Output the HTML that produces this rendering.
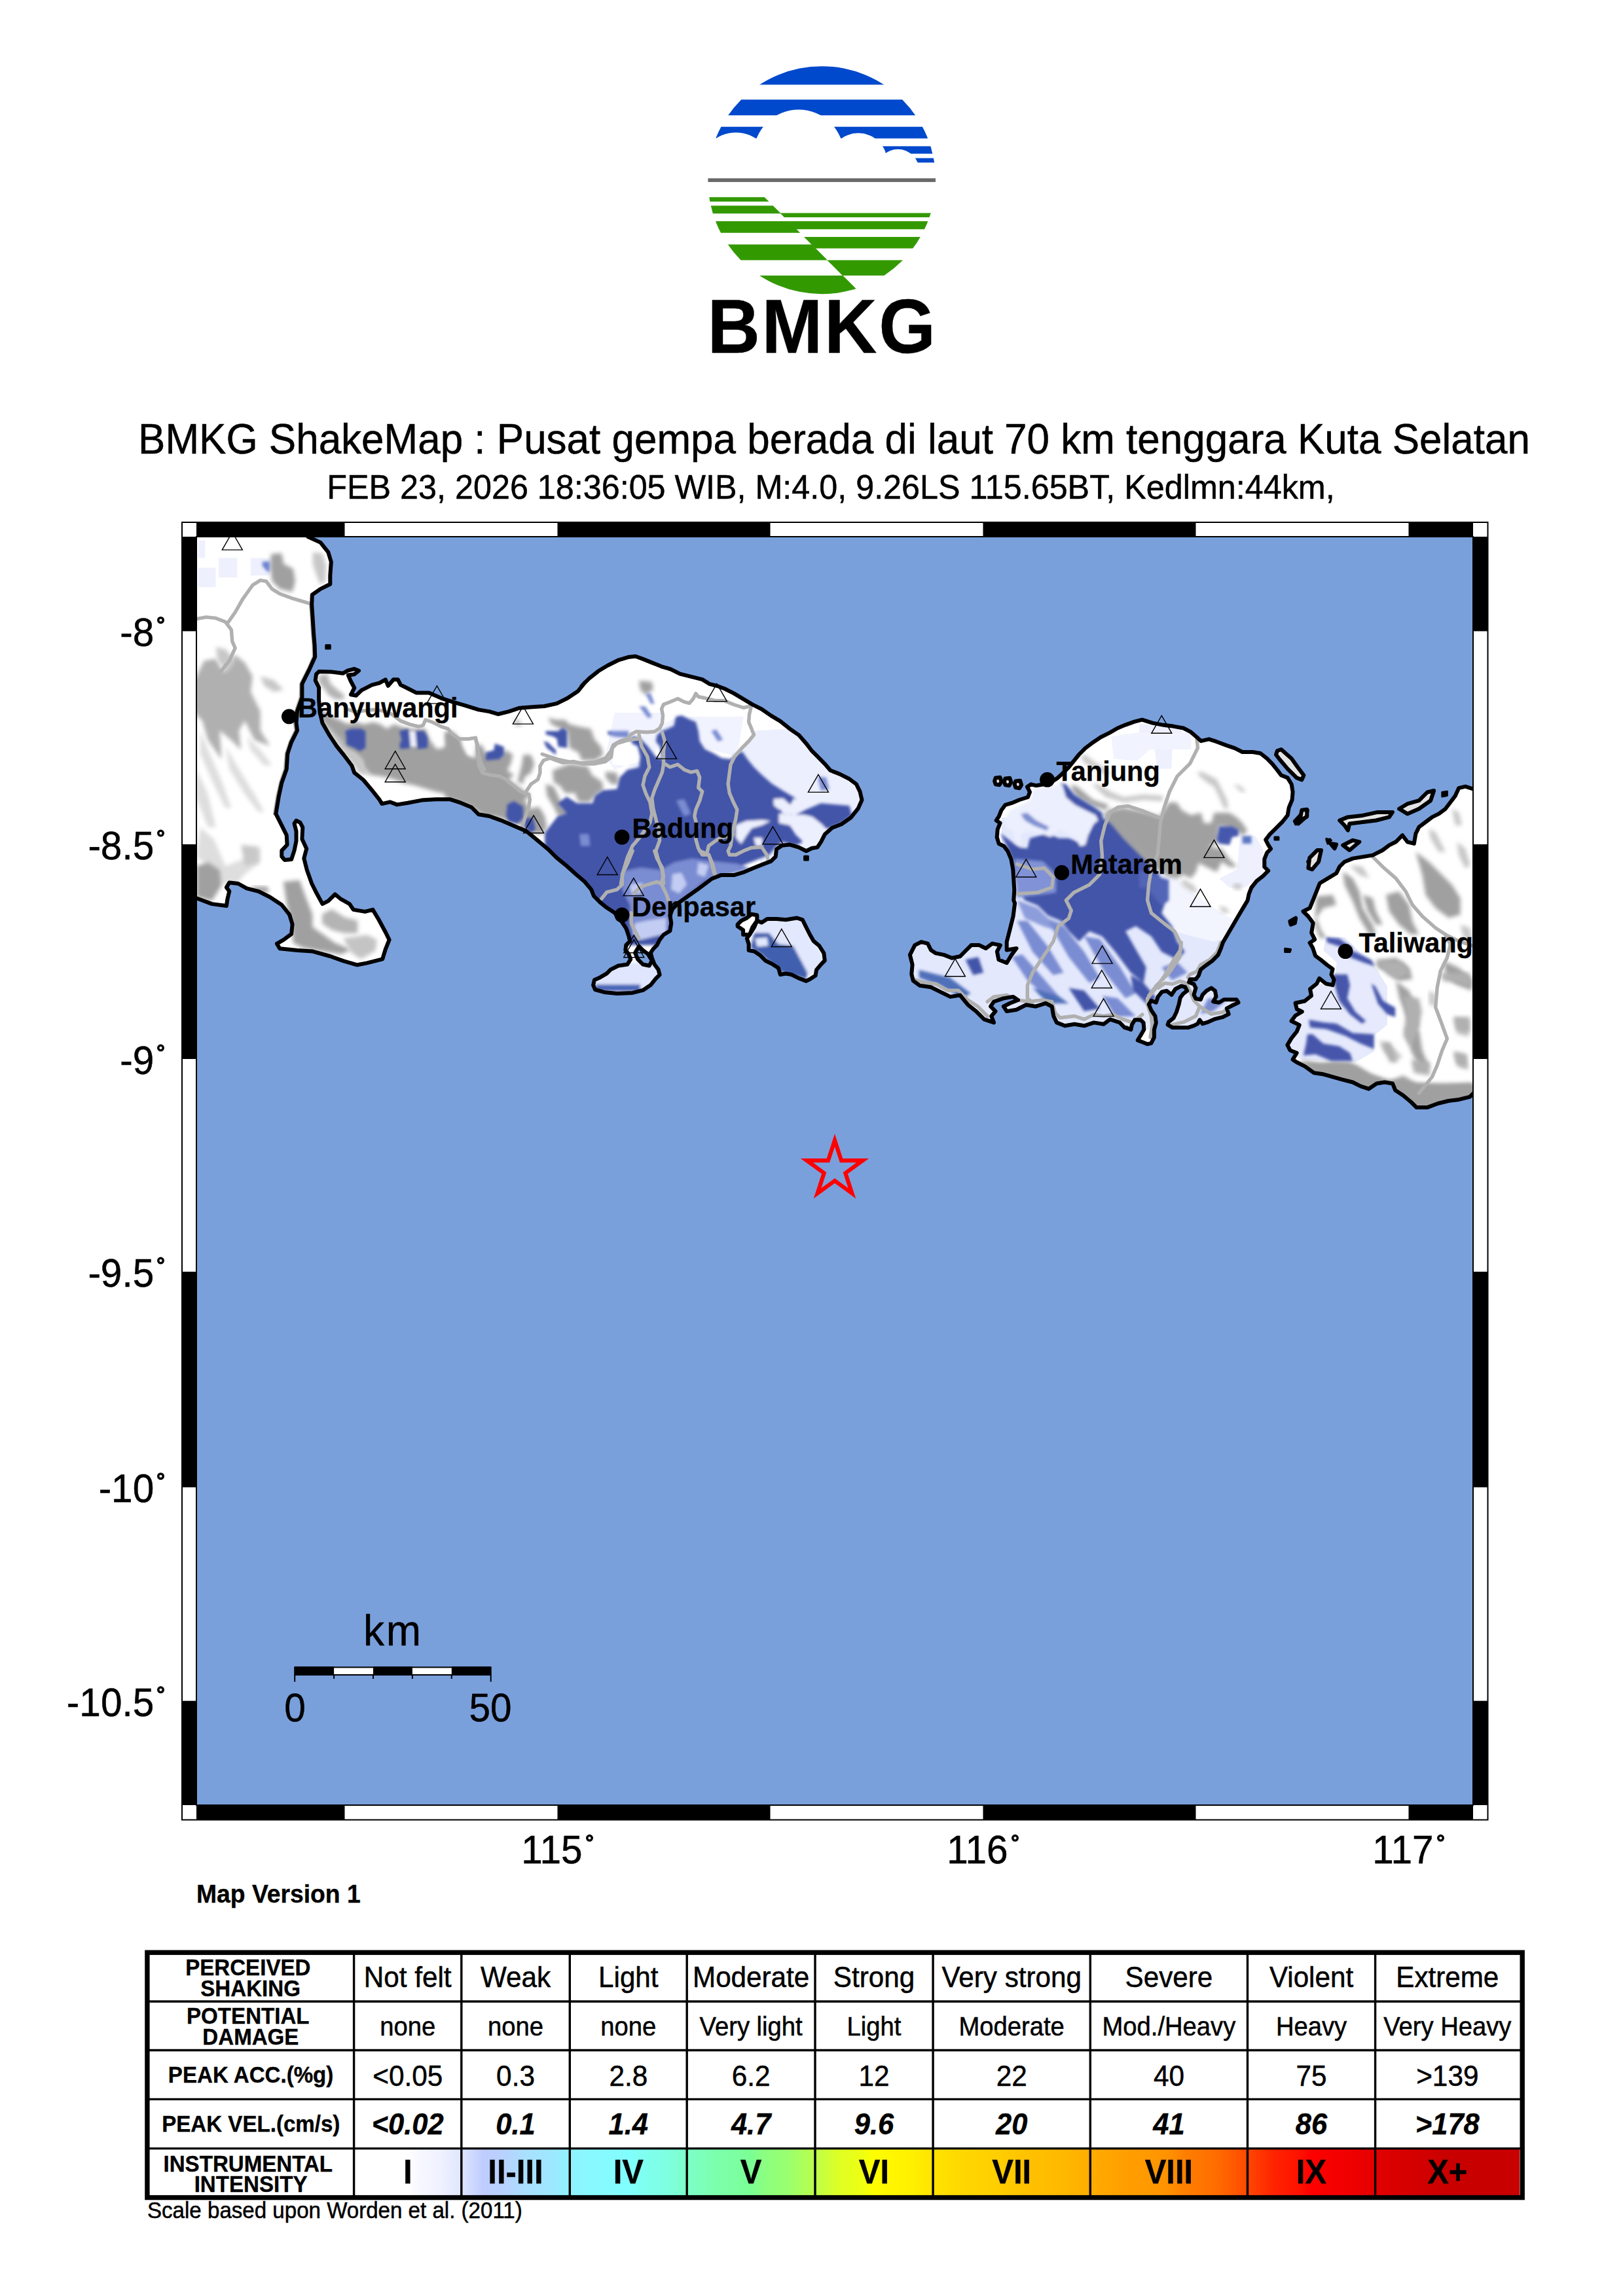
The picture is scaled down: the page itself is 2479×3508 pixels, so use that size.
<!DOCTYPE html>
<html><head><meta charset="utf-8"><title>BMKG ShakeMap</title>
<style>html,body{margin:0;padding:0;background:#fff}body{width:2479px;height:3508px;overflow:hidden}svg{display:block}text{fill:#000}</style>
</head><body>
<svg width="2479" height="3508" viewBox="0 0 2479 3508">
<rect width="2479" height="3508" fill="#fff"/>
<g id="logo">
<defs><clipPath id="lc"><circle cx="1255.2" cy="275.2" r="174.0"/></clipPath></defs>
<defs><mask id="cm" maskUnits="userSpaceOnUse" x="1050" y="90" width="420" height="200"><rect x="1050" y="90" width="420" height="200" fill="#fff"/><circle cx="1219.9" cy="236.5" r="69" fill="#000"/><circle cx="1124" cy="257.2" r="54.8" fill="#000"/><circle cx="1311" cy="247.5" r="44.2" fill="#000"/><circle cx="1371.5" cy="260.5" r="32.5" fill="#000"/></mask></defs>
<g clip-path="url(#lc)"><g mask="url(#cm)" fill="#0048cc">
<rect x="1050" y="95" width="420" height="34.4"/>
<rect x="1050" y="152.2" width="420" height="24"/>
<rect x="1050" y="193.7" width="420" height="17.8"/>
<rect x="1340" y="223.4" width="130" height="11.4"/>
<rect x="1392" y="241.6" width="80" height="6.8"/>
</g></g>
<rect x="1081.4" y="272.4" width="347.6" height="5.7" fill="#696969"/>
<polygon points="1050,301.2 1167.7,301.2 1174.5,308 1050,308" fill="#339900" clip-path="url(#lc)"/>
<polygon points="1050,314.2 1180.7,314.2 1192.8,326.3 1050,326.3" fill="#339900" clip-path="url(#lc)"/>
<polygon points="1050,338.1 1204.6,338.1 1222.2,355.7 1050,355.7" fill="#339900" clip-path="url(#lc)"/>
<polygon points="1050,373.5 1240,373.5 1263.9,397.4 1050,397.4" fill="#339900" clip-path="url(#lc)"/>
<polygon points="1050,420.9 1287.4,420.9 1318.5,452 1050,452" fill="#339900" clip-path="url(#lc)"/>
<polygon points="1191.5,325.6 1460,325.6 1460,332 1197.9,332" fill="#339900" clip-path="url(#lc)"/>
<polygon points="1204,338.1 1460,338.1 1460,350.2 1216.1,350.2" fill="#339900" clip-path="url(#lc)"/>
<polygon points="1228,362.1 1460,362.1 1460,379.6 1245.5,379.6" fill="#339900" clip-path="url(#lc)"/>
<polygon points="1263.3,397.4 1460,397.4 1460,420.9 1286.8,420.9" fill="#339900" clip-path="url(#lc)"/>
<text transform="translate(1080.5 539.2) scale(1 1.044)" font-family='"Liberation Sans", sans-serif' font-size="111.5" font-weight="bold" letter-spacing="2.6" stroke="#000" stroke-width="0.35">BMKG</text>
</g>
<text transform="translate(1274 692.8) scale(1 1.044)" font-family='"Liberation Sans", sans-serif' font-size="62" text-anchor="middle" stroke="#000" stroke-width="0.5">BMKG ShakeMap : Pusat gempa berada di laut 70 km tenggara Kuta Selatan</text>
<text transform="translate(1269 762.4) scale(1 1.044)" font-family='"Liberation Sans", sans-serif' font-size="50.3" text-anchor="middle" stroke="#000" stroke-width="0.5">FEB 23, 2026 18:36:05 WIB, M:4.0, 9.26LS 115.65BT, Kedlmn:44km,</text>
<rect x="278" y="798" width="1994.5" height="1982.5" fill="#fff" stroke="#000" stroke-width="2"/>
<rect x="300" y="820" width="1950" height="1938" fill="none" stroke="#000" stroke-width="2"/>
<rect x="300" y="798" width="226.5" height="23" fill="#000"/>
<rect x="300" y="2757" width="226.5" height="23.5" fill="#000"/>
<rect x="851.5" y="798" width="325" height="23" fill="#000"/>
<rect x="851.5" y="2757" width="325" height="23.5" fill="#000"/>
<rect x="1501.5" y="798" width="325" height="23" fill="#000"/>
<rect x="1501.5" y="2757" width="325" height="23.5" fill="#000"/>
<rect x="2151.5" y="798" width="98.5" height="23" fill="#000"/>
<rect x="2151.5" y="2757" width="98.5" height="23.5" fill="#000"/>
<rect x="278" y="820" width="23" height="144.4" fill="#000"/>
<rect x="2249" y="820" width="23.5" height="144.4" fill="#000"/>
<rect x="278" y="1290" width="23" height="328" fill="#000"/>
<rect x="2249" y="1290" width="23.5" height="328" fill="#000"/>
<rect x="278" y="1943" width="23" height="329.4" fill="#000"/>
<rect x="2249" y="1943" width="23.5" height="329.4" fill="#000"/>
<rect x="278" y="2598.7" width="23" height="159.3" fill="#000"/>
<rect x="2249" y="2598.7" width="23.5" height="159.3" fill="#000"/>
<defs><clipPath id="mapclip"><rect x="301" y="821" width="1948" height="1936"/></clipPath></defs>
<rect x="301" y="821" width="1948" height="1936" fill="#7aa0dc"/>
<g clip-path="url(#mapclip)">
<defs><clipPath id="land">
<path d="M294.1,814.1 L470.2,814.1 L470.2,820 L489.5,828.9 L501.3,843.7 L505.8,858.5 L504.3,879.2 L504.3,892.5 L489.5,899.9 L476.8,908.8 L476.2,923.6 L477.6,944.4 L479.1,968 L480.6,985.8 L481.2,1003.6 L473.2,1021.3 L461.4,1045 L461.4,1065.7 L454,1086.5 L452.5,1104.2 L454,1116.1 L445.1,1133.8 L439.2,1151.6 L437.7,1175.3 L430.3,1196 L425.8,1216.7 L421.4,1243.4 L430.3,1261.2 L437.7,1276 L438.6,1290.8 L430.3,1299.6 L430.3,1308.5 L434.7,1313.9 L445.1,1313 L449.5,1299.6 L452.5,1284.8 L452.5,1270 L449.5,1258.2 L452.5,1253.8 L458.4,1256.7 L462.3,1264.1 L461.4,1281.9 L468.2,1296.7 L464.3,1311.5 L468.8,1329.3 L476.2,1350 L483.6,1364.8 L492.5,1381.1 L501.3,1376.6 L511.7,1366.3 L520.6,1373.7 L533.9,1381.1 L539.8,1389.9 L557.6,1392.9 L569.4,1389.9 L578.3,1404.8 L588.7,1424 L594.6,1435.8 L588.7,1450.6 L584.2,1465.4 L560.5,1471.4 L545.7,1474.3 L525,1468.4 L504.3,1461 L477.6,1453.6 L454,1452.1 L427.3,1449.2 L422.9,1441.8 L433.2,1435.8 L445.1,1427 L446.6,1412.2 L442.1,1397.4 L430.3,1382.5 L412.5,1370.7 L394.7,1361.8 L377,1357.4 L363.7,1350 L350.3,1348.5 L345.9,1355.9 L350.3,1361.8 L347.4,1373.7 L345.9,1384 L323.7,1381.1 L300,1372.2 L294.1,1370.7Z"/>
<path d="M483,1030.2 L487.1,1026.1 L506.1,1026.6 L523.7,1028.8 L531,1024.7 L541.3,1022 L548.1,1024.7 L541.3,1030.2 L531.8,1031.5 L535.9,1041 L541.3,1051 L535.9,1061.3 L544,1062.7 L552.2,1054.6 L568.4,1046.4 L579.3,1043.7 L588.8,1038.3 L592.8,1047.8 L601,1038.3 L607.8,1038.3 L611.8,1046.4 L622.7,1051.8 L636.2,1058.6 L655.2,1058.6 L674.2,1066.8 L690.4,1072.2 L709.4,1077.6 L731.1,1084.4 L747.4,1087.1 L760.9,1091.2 L777.2,1087.1 L793.5,1081.7 L812.4,1080.3 L831.4,1079 L850.4,1074.9 L866.7,1066.8 L882.9,1055.9 L893.8,1042.4 L888.5,1048 L899.8,1036.7 L914,1025.3 L928.2,1016.8 L945.2,1008.3 L959.4,1004.1 L970.7,1002.7 L982,1006.9 L996.2,1012.6 L1010.4,1018.3 L1024.5,1022.5 L1038.7,1029.6 L1055.7,1033.9 L1072.7,1038.1 L1084.1,1045.2 L1095.4,1048 L1106.7,1052.3 L1120.9,1059.4 L1135.1,1067.9 L1149.3,1076.4 L1163.4,1083.5 L1177.6,1093.4 L1191.8,1101.9 L1205.9,1113.2 L1220.1,1123.1 L1231.4,1135.9 L1240,1147.2 L1248.5,1155.7 L1259.8,1167.1 L1268.3,1177 L1282.5,1182.6 L1296.6,1189.7 L1308,1198.2 L1313.6,1209.6 L1316.5,1222.3 L1310.8,1235.1 L1299.5,1249.3 L1285.3,1259.2 L1271.1,1264.8 L1259.8,1274.8 L1254.1,1286.1 L1248.5,1294.6 L1240,1296 L1231.4,1300.3 L1220.1,1294.6 L1205.9,1290.4 L1194.6,1291.8 L1186.1,1297.4 L1184.7,1308.8 L1177.6,1315.9 L1166.3,1320.1 L1152.1,1325.8 L1135.1,1332.9 L1120.9,1337.1 L1101.1,1337.1 L1086.9,1342.8 L1075.6,1351.3 L1064.2,1359.8 L1050.1,1369.7 L1037.2,1378.9 L1027.3,1388.7 L1023.4,1398.6 L1025.3,1410.4 L1023.4,1422.2 L1013.5,1428.2 L1007.6,1436 L1003.6,1443.9 L997.7,1449.8 L993.8,1455.8 L995.8,1463.6 L999.7,1473.5 L1005.6,1481.4 L1007.6,1489.3 L1001.7,1495.2 L993.8,1505.1 L982,1512.9 L966.2,1516.9 L942.5,1517.9 L922.8,1515.9 L909,1512 L906.1,1505.1 L908,1497.2 L916.9,1493.2 L926.8,1487.3 L932.7,1481.4 L944.5,1475.5 L958.3,1473.5 L963.2,1465.6 L960.3,1457.7 L955.3,1451.8 L956.3,1443.9 L962.2,1438 L960.3,1430.1 L956.3,1418.3 L948.4,1406.5 L938.6,1394.6 L926.8,1386.8 L916.9,1378.9 L907,1369 L903.1,1359.1 L893.2,1347.3 L879.4,1335.5 L863.9,1321.6 L850.4,1310.7 L836.8,1297.2 L820.6,1283.6 L804.3,1270.1 L785.3,1261.9 L766.3,1253.8 L747.4,1247 L731.1,1244.3 L720.3,1233.5 L704,1226.7 L687.7,1221.3 L666,1221.3 L644.3,1222.6 L622.7,1226.7 L606.4,1229.4 L595.6,1225.3 L583.4,1228.1 L579.3,1221.3 L568.4,1207.7 L554.9,1191.5 L541.3,1180.6 L537.3,1169.8 L525.1,1153.5 L514.2,1140 L503.4,1123.7 L492.5,1104.7 L488.5,1088.4 L487.1,1069.5 L487.1,1050.5 L481.7,1039.6Z"/>
<path d="M1156.3,1406.8 L1163.4,1409.6 L1171.9,1403.9 L1186.1,1403.9 L1200.3,1405.3 L1217.3,1402.5 L1225.8,1405.3 L1231.4,1416.7 L1237.1,1428 L1242.8,1437.9 L1251.3,1445 L1258.4,1456.4 L1259.8,1467.7 L1254.1,1473.4 L1247,1481.9 L1245.6,1490.4 L1237.1,1496 L1231.4,1498.9 L1220.1,1494.6 L1208.8,1489 L1200.3,1487.5 L1191.8,1489 L1188.9,1479 L1180.4,1473.4 L1169.1,1467.7 L1160.6,1459.2 L1152.1,1453.5 L1143.6,1452.1 L1143.6,1442.2 L1140.8,1433.7 L1145,1428 L1149.3,1416.7Z"/>
<path d="M1126.6,1412.4 L1132.2,1406.8 L1140.8,1402.5 L1147.8,1396.8 L1156.3,1398.3 L1156.3,1406.8 L1152.1,1416.7 L1145,1428 L1135.1,1428 L1135.1,1420.9 L1126.6,1415.3Z"/>
<path d="M1548.3,1375.7 L1549.3,1360 L1548.3,1344.2 L1547.3,1328.4 L1544.4,1312.7 L1539.4,1300.8 L1533.5,1292.9 L1525.6,1289 L1522.7,1279.1 L1523.7,1267.3 L1527.6,1257.4 L1521.7,1253.5 L1525.6,1247.6 L1529.6,1237.7 L1535.5,1229.8 L1545.3,1226.9 L1557.2,1222 L1570,1218 L1573,1210.1 L1569,1202.2 L1574.9,1198.3 L1582.8,1200.3 L1594.6,1198.3 L1606.5,1194.4 L1614.4,1189.4 L1622.2,1182.5 L1632.1,1172.7 L1640,1162.8 L1647.9,1153 L1657.7,1143.1 L1669.6,1134.2 L1681.4,1126.3 L1695.2,1119.4 L1707,1112.5 L1718.9,1107.6 L1732.7,1102.7 L1744.5,1099.7 L1760.3,1104.6 L1776,1107.6 L1791.8,1109.6 L1807.6,1112.5 L1818.9,1118.4 L1826.8,1125.3 L1834.6,1132.2 L1846.5,1129.3 L1858.3,1133.2 L1874.1,1139.1 L1885.9,1143.1 L1897.7,1149 L1913.5,1149 L1925.3,1151 L1935.2,1158.9 L1943.1,1166.8 L1951,1176.6 L1956.9,1184.5 L1966.7,1188.4 L1972.7,1198.3 L1974.6,1210.1 L1973.6,1222 L1968.7,1233.8 L1966.7,1245.6 L1958.9,1255.5 L1949,1265.3 L1939.1,1275.2 L1933.2,1283.1 L1937.2,1291 L1941.1,1296.9 L1935.2,1302.8 L1931.3,1312.7 L1931.3,1324.5 L1937.2,1330.4 L1929.3,1338.3 L1919.4,1346.2 L1911.5,1356 L1907.6,1365.9 L1905.6,1375.7 L1899.7,1385.6 L1893.8,1395.5 L1867.9,1440 L1864.9,1448.9 L1860.5,1459.2 L1851.6,1468.1 L1841.3,1475.5 L1833.9,1481.4 L1830.9,1490.3 L1826.5,1496.2 L1817.6,1496.2 L1816.1,1500.6 L1823.5,1503.6 L1826.5,1509.5 L1823.5,1519.9 L1826.5,1525.8 L1833.9,1527.2 L1836.8,1519.9 L1842.7,1513.9 L1850.1,1509.5 L1856,1513.9 L1857.5,1522.8 L1853.1,1530.2 L1862,1531.7 L1869.4,1527.2 L1876.7,1527.2 L1888.6,1527.2 L1891.5,1531.7 L1882.7,1536.1 L1873.8,1540.6 L1876.7,1549.4 L1867.9,1553.9 L1856,1556.8 L1845.7,1561.3 L1836.8,1564.2 L1832.4,1558.3 L1829.4,1564.2 L1823.5,1567.2 L1814.6,1570.1 L1802.8,1570.1 L1791,1570.1 L1783.6,1565.7 L1785.1,1561.3 L1792.5,1555.3 L1796.9,1546.5 L1800.6,1534.6 L1802.8,1524.3 L1807.2,1518.4 L1813.2,1513.9 L1810.2,1508 L1804.3,1506.5 L1795.4,1511 L1789.5,1519.9 L1782.1,1513.9 L1774.7,1515.4 L1768.8,1522.8 L1765.8,1531.7 L1758.4,1528.7 L1754.8,1534.6 L1758.4,1543.5 L1764.4,1552.4 L1765.8,1562.7 L1762.9,1573.1 L1762.9,1584.9 L1758.4,1593.8 L1752.5,1595.3 L1745.1,1592.3 L1737.7,1589.4 L1742.2,1582 L1747.4,1573.1 L1746.6,1562.7 L1742.2,1558.3 L1733.3,1558.3 L1728.9,1565.7 L1727.4,1573.1 L1720,1570.1 L1725,1572.2 L1717.6,1569.8 L1710.3,1562.4 L1695.5,1557.4 L1685.6,1564.8 L1670.8,1562.4 L1656,1567.3 L1641.2,1564.8 L1626.5,1567.3 L1614.1,1562.4 L1609.2,1552.5 L1606.7,1537.7 L1596.9,1532.8 L1582.1,1537.7 L1567.3,1535.3 L1552.5,1542.7 L1537.7,1545.1 L1532.8,1537.7 L1542.7,1532.8 L1555,1527.9 L1547.6,1522.9 L1532.8,1525.4 L1518,1530.3 L1513.1,1537.7 L1520.5,1545.1 L1514.3,1552.5 L1518,1562.4 L1503.2,1557.4 L1490.9,1545.1 L1478.6,1535.3 L1466.3,1520.5 L1451.5,1522.9 L1436.7,1515.6 L1421.9,1508.2 L1404.6,1505.7 L1394.8,1498.3 L1392.3,1488.4 L1393.6,1473.7 L1389.9,1458.9 L1397.3,1444.1 L1407.1,1439.1 L1417,1441.6 L1421.9,1451.5 L1429.3,1456.4 L1441.6,1458.9 L1453.9,1463.8 L1466.3,1461.3 L1476.1,1451.5 L1483.5,1444.1 L1495.8,1444.1 L1505.7,1449 L1515.6,1441.6 L1527.9,1444.1 L1522.9,1453.9 L1525.4,1466.3 L1537.7,1471.2 L1545.1,1458.9 L1552.5,1449 L1537.7,1451.5 L1537.7,1439.1 L1542.7,1419.4 L1547.6,1399.7 L1550.1,1380Z"/>
<path d="M2268.5,1205.5 L2250.3,1205.5 L2238.2,1201.7 L2228.1,1204.2 L2223,1215.6 L2215.4,1225.7 L2207.8,1235.8 L2197.7,1243.4 L2187.6,1248.4 L2177.5,1256 L2167.4,1263.6 L2162.4,1273.7 L2159.8,1288.9 L2149.7,1286.3 L2142.1,1276.2 L2132,1286.3 L2121.9,1291.4 L2111.8,1299 L2096.7,1306.6 L2081.5,1309.1 L2066.3,1311.6 L2053.7,1316.7 L2046.1,1324.2 L2041.1,1334.3 L2028.4,1341.9 L2015.8,1349.5 L2010.8,1362.1 L2005.7,1374.8 L2000.6,1387.4 L1990.5,1392.5 L1998.1,1400 L2005.7,1410.2 L2003.2,1425.3 L2008.2,1435.4 L2000.6,1440.5 L2005.1,1448.1 L2009.1,1460.3 L2017.3,1466.4 L2027.4,1474.6 L2035.6,1480.7 L2033.5,1488.8 L2037.6,1496.9 L2035.6,1505.1 L2025.4,1503 L2015.2,1494.9 L2011.2,1503 L2001,1511.2 L2003,1521.3 L1992.9,1529.5 L1978.6,1532.5 L1980.7,1541.7 L1988.8,1545.7 L1978.6,1551.8 L1972.5,1560 L1984.7,1566.1 L1980.7,1576.2 L1972.5,1586.4 L1966.4,1596.6 L1970.5,1604.7 L1980.7,1608.8 L1974.6,1618.9 L1980.7,1623 L1992.9,1629.1 L2007.1,1639.3 L2021.3,1641.3 L2035.6,1645.4 L2049.8,1649.4 L2066.1,1653.5 L2078.3,1659.6 L2090.5,1663.7 L2102.7,1655.5 L2114.9,1653.5 L2127.1,1655.5 L2131.1,1665.7 L2143.3,1673.8 L2155.5,1684 L2163.7,1692.1 L2179.9,1692.1 L2196.2,1686 L2212.5,1682 L2228.7,1679.9 L2245,1675.9 L2251.1,1669.8 L2285.7,1669.8Z"/>
</clipPath><filter id="bl" x="-20%" y="-20%" width="140%" height="140%"><feGaussianBlur stdDeviation="3"/></filter><filter id="bl2" filterUnits="userSpaceOnUse" x="280" y="800" width="2000" height="1000"><feGaussianBlur stdDeviation="2.2"/></filter></defs>
<path d="M294.1,814.1 L470.2,814.1 L470.2,820 L489.5,828.9 L501.3,843.7 L505.8,858.5 L504.3,879.2 L504.3,892.5 L489.5,899.9 L476.8,908.8 L476.2,923.6 L477.6,944.4 L479.1,968 L480.6,985.8 L481.2,1003.6 L473.2,1021.3 L461.4,1045 L461.4,1065.7 L454,1086.5 L452.5,1104.2 L454,1116.1 L445.1,1133.8 L439.2,1151.6 L437.7,1175.3 L430.3,1196 L425.8,1216.7 L421.4,1243.4 L430.3,1261.2 L437.7,1276 L438.6,1290.8 L430.3,1299.6 L430.3,1308.5 L434.7,1313.9 L445.1,1313 L449.5,1299.6 L452.5,1284.8 L452.5,1270 L449.5,1258.2 L452.5,1253.8 L458.4,1256.7 L462.3,1264.1 L461.4,1281.9 L468.2,1296.7 L464.3,1311.5 L468.8,1329.3 L476.2,1350 L483.6,1364.8 L492.5,1381.1 L501.3,1376.6 L511.7,1366.3 L520.6,1373.7 L533.9,1381.1 L539.8,1389.9 L557.6,1392.9 L569.4,1389.9 L578.3,1404.8 L588.7,1424 L594.6,1435.8 L588.7,1450.6 L584.2,1465.4 L560.5,1471.4 L545.7,1474.3 L525,1468.4 L504.3,1461 L477.6,1453.6 L454,1452.1 L427.3,1449.2 L422.9,1441.8 L433.2,1435.8 L445.1,1427 L446.6,1412.2 L442.1,1397.4 L430.3,1382.5 L412.5,1370.7 L394.7,1361.8 L377,1357.4 L363.7,1350 L350.3,1348.5 L345.9,1355.9 L350.3,1361.8 L347.4,1373.7 L345.9,1384 L323.7,1381.1 L300,1372.2 L294.1,1370.7Z" fill="#fff"/>
<path d="M483,1030.2 L487.1,1026.1 L506.1,1026.6 L523.7,1028.8 L531,1024.7 L541.3,1022 L548.1,1024.7 L541.3,1030.2 L531.8,1031.5 L535.9,1041 L541.3,1051 L535.9,1061.3 L544,1062.7 L552.2,1054.6 L568.4,1046.4 L579.3,1043.7 L588.8,1038.3 L592.8,1047.8 L601,1038.3 L607.8,1038.3 L611.8,1046.4 L622.7,1051.8 L636.2,1058.6 L655.2,1058.6 L674.2,1066.8 L690.4,1072.2 L709.4,1077.6 L731.1,1084.4 L747.4,1087.1 L760.9,1091.2 L777.2,1087.1 L793.5,1081.7 L812.4,1080.3 L831.4,1079 L850.4,1074.9 L866.7,1066.8 L882.9,1055.9 L893.8,1042.4 L888.5,1048 L899.8,1036.7 L914,1025.3 L928.2,1016.8 L945.2,1008.3 L959.4,1004.1 L970.7,1002.7 L982,1006.9 L996.2,1012.6 L1010.4,1018.3 L1024.5,1022.5 L1038.7,1029.6 L1055.7,1033.9 L1072.7,1038.1 L1084.1,1045.2 L1095.4,1048 L1106.7,1052.3 L1120.9,1059.4 L1135.1,1067.9 L1149.3,1076.4 L1163.4,1083.5 L1177.6,1093.4 L1191.8,1101.9 L1205.9,1113.2 L1220.1,1123.1 L1231.4,1135.9 L1240,1147.2 L1248.5,1155.7 L1259.8,1167.1 L1268.3,1177 L1282.5,1182.6 L1296.6,1189.7 L1308,1198.2 L1313.6,1209.6 L1316.5,1222.3 L1310.8,1235.1 L1299.5,1249.3 L1285.3,1259.2 L1271.1,1264.8 L1259.8,1274.8 L1254.1,1286.1 L1248.5,1294.6 L1240,1296 L1231.4,1300.3 L1220.1,1294.6 L1205.9,1290.4 L1194.6,1291.8 L1186.1,1297.4 L1184.7,1308.8 L1177.6,1315.9 L1166.3,1320.1 L1152.1,1325.8 L1135.1,1332.9 L1120.9,1337.1 L1101.1,1337.1 L1086.9,1342.8 L1075.6,1351.3 L1064.2,1359.8 L1050.1,1369.7 L1037.2,1378.9 L1027.3,1388.7 L1023.4,1398.6 L1025.3,1410.4 L1023.4,1422.2 L1013.5,1428.2 L1007.6,1436 L1003.6,1443.9 L997.7,1449.8 L993.8,1455.8 L995.8,1463.6 L999.7,1473.5 L1005.6,1481.4 L1007.6,1489.3 L1001.7,1495.2 L993.8,1505.1 L982,1512.9 L966.2,1516.9 L942.5,1517.9 L922.8,1515.9 L909,1512 L906.1,1505.1 L908,1497.2 L916.9,1493.2 L926.8,1487.3 L932.7,1481.4 L944.5,1475.5 L958.3,1473.5 L963.2,1465.6 L960.3,1457.7 L955.3,1451.8 L956.3,1443.9 L962.2,1438 L960.3,1430.1 L956.3,1418.3 L948.4,1406.5 L938.6,1394.6 L926.8,1386.8 L916.9,1378.9 L907,1369 L903.1,1359.1 L893.2,1347.3 L879.4,1335.5 L863.9,1321.6 L850.4,1310.7 L836.8,1297.2 L820.6,1283.6 L804.3,1270.1 L785.3,1261.9 L766.3,1253.8 L747.4,1247 L731.1,1244.3 L720.3,1233.5 L704,1226.7 L687.7,1221.3 L666,1221.3 L644.3,1222.6 L622.7,1226.7 L606.4,1229.4 L595.6,1225.3 L583.4,1228.1 L579.3,1221.3 L568.4,1207.7 L554.9,1191.5 L541.3,1180.6 L537.3,1169.8 L525.1,1153.5 L514.2,1140 L503.4,1123.7 L492.5,1104.7 L488.5,1088.4 L487.1,1069.5 L487.1,1050.5 L481.7,1039.6Z" fill="#fff"/>
<path d="M1156.3,1406.8 L1163.4,1409.6 L1171.9,1403.9 L1186.1,1403.9 L1200.3,1405.3 L1217.3,1402.5 L1225.8,1405.3 L1231.4,1416.7 L1237.1,1428 L1242.8,1437.9 L1251.3,1445 L1258.4,1456.4 L1259.8,1467.7 L1254.1,1473.4 L1247,1481.9 L1245.6,1490.4 L1237.1,1496 L1231.4,1498.9 L1220.1,1494.6 L1208.8,1489 L1200.3,1487.5 L1191.8,1489 L1188.9,1479 L1180.4,1473.4 L1169.1,1467.7 L1160.6,1459.2 L1152.1,1453.5 L1143.6,1452.1 L1143.6,1442.2 L1140.8,1433.7 L1145,1428 L1149.3,1416.7Z" fill="#fff"/>
<path d="M1126.6,1412.4 L1132.2,1406.8 L1140.8,1402.5 L1147.8,1396.8 L1156.3,1398.3 L1156.3,1406.8 L1152.1,1416.7 L1145,1428 L1135.1,1428 L1135.1,1420.9 L1126.6,1415.3Z" fill="#fff"/>
<path d="M1548.3,1375.7 L1549.3,1360 L1548.3,1344.2 L1547.3,1328.4 L1544.4,1312.7 L1539.4,1300.8 L1533.5,1292.9 L1525.6,1289 L1522.7,1279.1 L1523.7,1267.3 L1527.6,1257.4 L1521.7,1253.5 L1525.6,1247.6 L1529.6,1237.7 L1535.5,1229.8 L1545.3,1226.9 L1557.2,1222 L1570,1218 L1573,1210.1 L1569,1202.2 L1574.9,1198.3 L1582.8,1200.3 L1594.6,1198.3 L1606.5,1194.4 L1614.4,1189.4 L1622.2,1182.5 L1632.1,1172.7 L1640,1162.8 L1647.9,1153 L1657.7,1143.1 L1669.6,1134.2 L1681.4,1126.3 L1695.2,1119.4 L1707,1112.5 L1718.9,1107.6 L1732.7,1102.7 L1744.5,1099.7 L1760.3,1104.6 L1776,1107.6 L1791.8,1109.6 L1807.6,1112.5 L1818.9,1118.4 L1826.8,1125.3 L1834.6,1132.2 L1846.5,1129.3 L1858.3,1133.2 L1874.1,1139.1 L1885.9,1143.1 L1897.7,1149 L1913.5,1149 L1925.3,1151 L1935.2,1158.9 L1943.1,1166.8 L1951,1176.6 L1956.9,1184.5 L1966.7,1188.4 L1972.7,1198.3 L1974.6,1210.1 L1973.6,1222 L1968.7,1233.8 L1966.7,1245.6 L1958.9,1255.5 L1949,1265.3 L1939.1,1275.2 L1933.2,1283.1 L1937.2,1291 L1941.1,1296.9 L1935.2,1302.8 L1931.3,1312.7 L1931.3,1324.5 L1937.2,1330.4 L1929.3,1338.3 L1919.4,1346.2 L1911.5,1356 L1907.6,1365.9 L1905.6,1375.7 L1899.7,1385.6 L1893.8,1395.5 L1867.9,1440 L1864.9,1448.9 L1860.5,1459.2 L1851.6,1468.1 L1841.3,1475.5 L1833.9,1481.4 L1830.9,1490.3 L1826.5,1496.2 L1817.6,1496.2 L1816.1,1500.6 L1823.5,1503.6 L1826.5,1509.5 L1823.5,1519.9 L1826.5,1525.8 L1833.9,1527.2 L1836.8,1519.9 L1842.7,1513.9 L1850.1,1509.5 L1856,1513.9 L1857.5,1522.8 L1853.1,1530.2 L1862,1531.7 L1869.4,1527.2 L1876.7,1527.2 L1888.6,1527.2 L1891.5,1531.7 L1882.7,1536.1 L1873.8,1540.6 L1876.7,1549.4 L1867.9,1553.9 L1856,1556.8 L1845.7,1561.3 L1836.8,1564.2 L1832.4,1558.3 L1829.4,1564.2 L1823.5,1567.2 L1814.6,1570.1 L1802.8,1570.1 L1791,1570.1 L1783.6,1565.7 L1785.1,1561.3 L1792.5,1555.3 L1796.9,1546.5 L1800.6,1534.6 L1802.8,1524.3 L1807.2,1518.4 L1813.2,1513.9 L1810.2,1508 L1804.3,1506.5 L1795.4,1511 L1789.5,1519.9 L1782.1,1513.9 L1774.7,1515.4 L1768.8,1522.8 L1765.8,1531.7 L1758.4,1528.7 L1754.8,1534.6 L1758.4,1543.5 L1764.4,1552.4 L1765.8,1562.7 L1762.9,1573.1 L1762.9,1584.9 L1758.4,1593.8 L1752.5,1595.3 L1745.1,1592.3 L1737.7,1589.4 L1742.2,1582 L1747.4,1573.1 L1746.6,1562.7 L1742.2,1558.3 L1733.3,1558.3 L1728.9,1565.7 L1727.4,1573.1 L1720,1570.1 L1725,1572.2 L1717.6,1569.8 L1710.3,1562.4 L1695.5,1557.4 L1685.6,1564.8 L1670.8,1562.4 L1656,1567.3 L1641.2,1564.8 L1626.5,1567.3 L1614.1,1562.4 L1609.2,1552.5 L1606.7,1537.7 L1596.9,1532.8 L1582.1,1537.7 L1567.3,1535.3 L1552.5,1542.7 L1537.7,1545.1 L1532.8,1537.7 L1542.7,1532.8 L1555,1527.9 L1547.6,1522.9 L1532.8,1525.4 L1518,1530.3 L1513.1,1537.7 L1520.5,1545.1 L1514.3,1552.5 L1518,1562.4 L1503.2,1557.4 L1490.9,1545.1 L1478.6,1535.3 L1466.3,1520.5 L1451.5,1522.9 L1436.7,1515.6 L1421.9,1508.2 L1404.6,1505.7 L1394.8,1498.3 L1392.3,1488.4 L1393.6,1473.7 L1389.9,1458.9 L1397.3,1444.1 L1407.1,1439.1 L1417,1441.6 L1421.9,1451.5 L1429.3,1456.4 L1441.6,1458.9 L1453.9,1463.8 L1466.3,1461.3 L1476.1,1451.5 L1483.5,1444.1 L1495.8,1444.1 L1505.7,1449 L1515.6,1441.6 L1527.9,1444.1 L1522.9,1453.9 L1525.4,1466.3 L1537.7,1471.2 L1545.1,1458.9 L1552.5,1449 L1537.7,1451.5 L1537.7,1439.1 L1542.7,1419.4 L1547.6,1399.7 L1550.1,1380Z" fill="#fff"/>
<path d="M2268.5,1205.5 L2250.3,1205.5 L2238.2,1201.7 L2228.1,1204.2 L2223,1215.6 L2215.4,1225.7 L2207.8,1235.8 L2197.7,1243.4 L2187.6,1248.4 L2177.5,1256 L2167.4,1263.6 L2162.4,1273.7 L2159.8,1288.9 L2149.7,1286.3 L2142.1,1276.2 L2132,1286.3 L2121.9,1291.4 L2111.8,1299 L2096.7,1306.6 L2081.5,1309.1 L2066.3,1311.6 L2053.7,1316.7 L2046.1,1324.2 L2041.1,1334.3 L2028.4,1341.9 L2015.8,1349.5 L2010.8,1362.1 L2005.7,1374.8 L2000.6,1387.4 L1990.5,1392.5 L1998.1,1400 L2005.7,1410.2 L2003.2,1425.3 L2008.2,1435.4 L2000.6,1440.5 L2005.1,1448.1 L2009.1,1460.3 L2017.3,1466.4 L2027.4,1474.6 L2035.6,1480.7 L2033.5,1488.8 L2037.6,1496.9 L2035.6,1505.1 L2025.4,1503 L2015.2,1494.9 L2011.2,1503 L2001,1511.2 L2003,1521.3 L1992.9,1529.5 L1978.6,1532.5 L1980.7,1541.7 L1988.8,1545.7 L1978.6,1551.8 L1972.5,1560 L1984.7,1566.1 L1980.7,1576.2 L1972.5,1586.4 L1966.4,1596.6 L1970.5,1604.7 L1980.7,1608.8 L1974.6,1618.9 L1980.7,1623 L1992.9,1629.1 L2007.1,1639.3 L2021.3,1641.3 L2035.6,1645.4 L2049.8,1649.4 L2066.1,1653.5 L2078.3,1659.6 L2090.5,1663.7 L2102.7,1655.5 L2114.9,1653.5 L2127.1,1655.5 L2131.1,1665.7 L2143.3,1673.8 L2155.5,1684 L2163.7,1692.1 L2179.9,1692.1 L2196.2,1686 L2212.5,1682 L2228.7,1679.9 L2245,1675.9 L2251.1,1669.8 L2285.7,1669.8Z" fill="#fff"/>
<g clip-path="url(#land)">
<path d="M1152.9,1116.5 L1212.1,1113.3 L1324.3,1174.2 L1324.3,1270.3 L1244.2,1302.3 L1164.1,1326.4 L1148.1,1270.3 L1116,1158.2 L1136.8,1142.1Z" fill="#eceffd"/>
<path d="M938.6,1089.1 L1009.6,1089.1 L1009.6,1114.8 L966.2,1118.7 L938.6,1140.4 L934.6,1168 L978,1172 L978,1120.7 L1037.2,1095.1 L1135.7,1095.1 L1125.9,1156.2 L1068.7,1140.4 L1056.9,1104.9 L1017.4,1112.8 L997.7,1156.2 L938.6,1175.9 L924.8,1156.2Z" fill="#f1f3fe"/>
<path d="M303,825.9 L313.3,825.9 L313.3,852.6 L303,852.6Z" fill="#eef0fd"/>
<path d="M334,852.6 L362.2,852.6 L362.2,882.2 L334,882.2Z" fill="#eef0fd"/>
<path d="M382.9,852.6 L412.5,852.6 L412.5,879.2 L382.9,879.2Z" fill="#eef0fd"/>
<path d="M303,867.4 L329.6,867.4 L329.6,897 L303,897Z" fill="#eef0fd"/>
<path d="M1770.4,1312.4 L1813.8,1359.7 L1872.9,1399.1 L1904.5,1414.9 L1892.6,1572.6 L1734.9,1572.6 L1734.9,1336Z" fill="#f2f4fe"/>
<path d="M1529.8,1249.3 L1679.7,1249.3 L1770.4,1336 L1754.6,1359.7 L1758.6,1395.2 L1794,1422.8 L1821.7,1430.7 L1853.2,1438.6 L1884.7,1430.7 L1892.6,1454.3 L1892.6,1572.6 L1380,1572.6 L1380,1430.7 L1529.8,1430.7Z" fill="#e3e8fc"/>
<path d="M1740,1105.6 L1805.1,1113.5 L1807,1129.3 L1791.3,1129.3 L1789.3,1174.6 L1767.6,1174.6 L1763.7,1145.1 L1740,1143.1Z" fill="#eef0fd"/>
<path d="M1697.2,1125.3 L1736.6,1119.4 L1819.4,1119.4 L1819.4,1145.1 L1756.3,1145.1 L1736.6,1162.8 L1701.1,1158.9Z" fill="#f1f3fe"/>
<path d="M1893.8,1277.2 L1917.4,1277.2 L1929.3,1296.9 L1929.3,1336.3 L1901.7,1356 L1878,1356 L1862.2,1342.2 L1889.8,1328.4Z" fill="#eef0fd"/>
<path d="M1986.8,1507.1 L2037.6,1501 L2041.7,1470.5 L2021.3,1452.2 L2025.4,1431.9 L2053.9,1431.9 L2102.7,1480.7 L2118.9,1507.1 L2118.9,1566.1 L2098.6,1582.3 L2098.6,1606.7 L2070.1,1623 L1988.8,1618.9 L1960.3,1602.7 L1978.6,1582.3 L1970.5,1531.5Z" fill="#e6eafc"/>
<path d="M485.9,1032.4 L499.7,1029 L504.9,1044.5 L516.9,1054.9 L525.6,1061.8 L525.6,1068.7 L511.8,1068.7 L501.4,1061.8 L494.5,1051.4 L487.6,1044.5Z" fill="#b4b4b4" filter="url(#bl)"/>
<path d="M485.9,1082.5 L501.4,1089.4 L529,1106.6 L529,1144.6 L542.8,1151.5 L553.2,1161.8 L556.6,1173.9 L567,1184.2 L549.7,1182.5 L535.9,1165.3 L516.9,1141.1 L499.7,1113.5 L489.3,1096.3Z" fill="#c6c6c6" filter="url(#bl)"/>
<path d="M489.3,1085.9 L504.9,1096.3 L529,1106.6 L542.8,1103.2 L556.6,1106.6 L570.4,1103.2 L580.8,1106.6 L591.1,1113.5 L601.5,1106.6 L611.8,1110.1 L625.6,1113.5 L649.8,1113.5 L656.7,1130.8 L667,1144.6 L684.3,1141.1 L680.8,1120.4 L691.2,1117 L701.5,1130.8 L705,1141.1 L711.9,1154.9 L725.7,1158.4 L740,1165.3 L753.3,1182.5 L753.3,1244.6 L740,1239.5 L718.8,1229.1 L701.5,1222.2 L684.3,1213.6 L667,1210.1 L649.8,1204.9 L632.5,1199.8 L615.3,1196.3 L598,1189.4 L580.8,1186 L567,1184.2 L556.6,1173.9 L553.2,1161.8 L542.8,1151.5 L529,1144.6 L522.1,1130.8 L511.8,1120.4 L501.4,1110.1 L492.8,1099.7Z" fill="#a0a0a0" filter="url(#bl)"/>
<path d="M680,1116.9 L690.4,1122.1 L702.4,1129 L704.2,1141.1 L712.8,1156.6 L724.9,1163.5 L728.3,1135.9 L736.9,1139.4 L742.1,1151.4 L762.8,1153.2 L773.2,1146.3 L783.5,1153.2 L780.1,1167 L774.9,1177.3 L785.2,1184.2 L776.6,1191.1 L787,1198 L800.8,1208.4 L811.1,1215.3 L800.8,1222.2 L809.4,1236 L823.2,1232.5 L831.8,1246.3 L835.3,1263.6 L828.4,1273.9 L818,1273.9 L800.8,1263.6 L790.4,1258.4 L774.9,1253.2 L755.9,1248 L740.4,1246.3 L728.3,1239.4 L719.7,1230.8 L697.3,1223.9 L680,1218.7Z" fill="#a0a0a0" filter="url(#bl)"/>
<path d="M799,1153.2 L811.1,1153.2 L816.3,1167 L811.1,1180.8 L800.8,1187.7 L799,1198 L790.4,1194.6 L793.9,1180.8 L797.3,1167Z" fill="#a0a0a0" filter="url(#bl)"/>
<path d="M837,1096.2 L849.1,1099.7 L862.9,1099.7 L869.8,1106.6 L883.6,1110 L902.6,1113.5 L907.7,1129 L918.1,1141.1 L921.5,1153.2 L909.5,1161.8 L888.7,1161.8 L883.6,1149.7 L869.8,1142.8 L868,1129 L866.3,1116.9 L852.5,1111.8 L842.2,1106.6Z" fill="#a0a0a0" filter="url(#bl)"/>
<path d="M843.9,1177.3 L869.8,1167 L897.4,1170.4 L904.3,1184.2 L919.8,1194.6 L921.5,1206.6 L909.5,1215.3 L900.8,1225.6 L883.6,1225.6 L878.4,1211.8 L862.9,1211.8 L856,1201.5 L845.6,1194.6Z" fill="#a0a0a0" filter="url(#bl)"/>
<path d="M833.5,1198 L845.6,1201.5 L852.5,1215.3 L859.4,1232.5 L869.8,1241.1 L866.3,1249.8 L852.5,1246.3 L845.6,1232.5 L835.3,1215.3Z" fill="#a0a0a0" filter="url(#bl)"/>
<path d="M925,1179 L942.2,1180.8 L945.7,1198 L933.6,1198 L925,1187.7Z" fill="#a0a0a0" filter="url(#bl)"/>
<path d="M976,1039.9 L995.8,1041.8 L997.7,1053.7 L985.9,1061.5 L978,1053.7Z" fill="#a0a0a0" filter="url(#bl)"/>
<path d="M783.5,1098 L793.9,1099.7 L797.3,1110 L787,1110Z" fill="#c8c8c8" filter="url(#bl)"/>
<path d="M414,846.6 L430.3,845.2 L433.2,861.5 L448,868.9 L451,888.1 L446.6,904.4 L427.3,899.9 L415.5,888.1 L412.5,864.4Z" fill="#a0a0a0" filter="url(#bl)"/>
<path d="M477.6,843.7 L492.5,845.2 L498.4,864.4 L496.9,888.1 L489.5,894 L483.6,879.2 L477.6,861.5Z" fill="#c8c8c8" filter="url(#bl)"/>
<path d="M294.1,1045 L311.8,1009.5 L329.6,1006.5 L341.5,1027.3 L359.2,1000.6 L374,1012.5 L385.9,1033.2 L382.9,1056.9 L397.7,1086.5 L397.7,1116.1 L412.5,1139.8 L388.8,1130.9 L374,1101.3 L365.1,1116.1 L368.1,1145.7 L353.3,1130.9 L335.5,1116.1 L338.5,1160.5 L317.8,1130.9 L308.9,1101.3 L294.1,1086.5Z" fill="#b0b0b0" filter="url(#bl)"/>
<path d="M329.6,988.8 L344.4,991.7 L359.2,1009.5 L347.4,1027.3 L332.6,1009.5Z" fill="#c8c8c8" filter="url(#bl)"/>
<path d="M397.7,1033.2 L418.4,1039.1 L433.2,1053.9 L418.4,1056.9 L403.6,1048Z" fill="#c8c8c8" filter="url(#bl)"/>
<path d="M305.9,1116.1 L317.8,1145.7 L338.5,1193.1 L353.3,1234.5 L344.4,1234.5 L326.6,1199 L305.9,1151.6Z" fill="#dedede" filter="url(#bl)"/>
<path d="M344.4,1139.8 L365.1,1175.3 L388.8,1213.8 L403.6,1240.4 L394.7,1240.4 L374,1213.8 L350.3,1175.3Z" fill="#dedede" filter="url(#bl)"/>
<path d="M377,1125 L397.7,1145.7 L415.5,1169.4 L403.6,1169.4 L382.9,1145.7Z" fill="#dedede" filter="url(#bl)"/>
<path d="M300,1175.3 L317.8,1213.8 L329.6,1264.1 L317.8,1264.1 L300,1219.7Z" fill="#dedede" filter="url(#bl)"/>
<path d="M305.9,1264.1 L326.6,1281.9 L344.4,1323.3 L374,1311.5 L397.7,1293.7 L397.7,1317.4 L374,1335.2 L359.2,1352.9 L335.5,1350 L317.8,1323.3 L300,1308.5Z" fill="#dedede" filter="url(#bl)"/>
<path d="M300,1323.3 L317.8,1317.4 L335.5,1329.3 L338.5,1352.9 L323.7,1376.6 L300,1370.7Z" fill="#a0a0a0" filter="url(#bl)"/>
<path d="M432.9,1347.2 L457.6,1344.7 L467.4,1371.8 L477.3,1396.5 L477.3,1416.2 L511.8,1440.8 L536.5,1450.7 L521.7,1458.1 L487.2,1453.1 L462.5,1448.2 L447.7,1440.8 L445.3,1411.2 L437.9,1381.7Z" fill="#a0a0a0" filter="url(#bl)"/>
<path d="M492.1,1396.5 L506.9,1389.1 L526.6,1401.4 L546.3,1406.3 L546.3,1426 L526.6,1426 L506.9,1421.1 L492.1,1411.2Z" fill="#b4b4b4" filter="url(#bl)"/>
<path d="M524.1,1433.4 L561.1,1428.5 L575.9,1435.9 L573.4,1453.1 L551.2,1465.5 L536.5,1455.6Z" fill="#c4c4c4" filter="url(#bl)"/>
<path d="M383.7,1354.6 L408.3,1354.6 L410.8,1364.4 L388.6,1362Z" fill="#a0a0a0" filter="url(#bl)"/>
<path d="M368.1,1290.8 L394.7,1293.7 L394.7,1317.4 L374,1323.3Z" fill="#c8c8c8" filter="url(#bl)"/>
<path d="M1695.2,1253.5 L1697.2,1237.7 L1714.9,1233.8 L1736.6,1237.7 L1759.7,1243.6 L1771.5,1247.6 L1785.3,1225.9 L1797.2,1225.9 L1805.1,1237.7 L1818.9,1245.6 L1834.6,1241.7 L1838.6,1257.4 L1850.4,1257.4 L1854.4,1241.7 L1878,1241.7 L1889.8,1249.6 L1897.7,1257.4 L1905.6,1269.3 L1897.7,1277.2 L1889.8,1269.3 L1862.2,1261.4 L1860.3,1287 L1846.5,1292.9 L1866.2,1296.9 L1878,1312.7 L1889.8,1324.5 L1878,1324.5 L1866.2,1316.6 L1858.3,1332.4 L1842.5,1324.5 L1830.7,1318.6 L1826.8,1332.4 L1818.9,1342.2 L1807,1336.3 L1799.1,1342.2 L1787.3,1340.3 L1775.5,1334.3 L1769.6,1328.4 L1759.7,1330.4 L1754.3,1316.6 L1742.5,1300.8 L1730.7,1289 L1716.9,1275.2 L1705.1,1263.4Z" fill="#a0a0a0" filter="url(#bl)"/>
<path d="M1685.3,1243.6 L1697.2,1235.8 L1764.2,1316.6 L1754.3,1330.4 L1697.2,1273.2Z" fill="#a0a0a0" filter="url(#bl)"/>
<path d="M1829.7,1178.6 L1838.6,1180.6 L1858.3,1190.4 L1866.2,1206.2 L1874.1,1222 L1876,1235.8 L1870.1,1235.8 L1862.2,1218 L1854.4,1202.2 L1842.5,1194.4 L1830.7,1184.5Z" fill="#c8c8c8" filter="url(#bl)"/>
<path d="M1883.9,1198.3 L1893.8,1200.3 L1903.6,1210.1 L1895.8,1210.1Z" fill="#c8c8c8" filter="url(#bl)"/>
<path d="M1649.8,1154.9 L1657.7,1153 L1669.6,1162.8 L1689.3,1174.6 L1697.2,1182.5 L1689.3,1184.5 L1673.5,1174.6 L1657.7,1166.8Z" fill="#c8c8c8" filter="url(#bl)"/>
<path d="M1667.6,1198.3 L1677.4,1198.3 L1697.2,1210.1 L1716.9,1218 L1746.5,1214.1 L1776,1216 L1776,1223.9 L1746.5,1222 L1716.9,1225.9 L1689.3,1218Z" fill="#c8c8c8" filter="url(#bl)"/>
<path d="M1636,1198.3 L1645.9,1202.2 L1669.6,1222 L1693.2,1229.8 L1689.3,1237.7 L1669.6,1231.8 L1645.9,1218 L1638,1208.2Z" fill="#a0a0a0" filter="url(#bl)"/>
<path d="M1805.1,1342.2 L1822.8,1352.1 L1830.7,1363.9 L1818.9,1361.9 L1805.1,1352.1Z" fill="#c8c8c8" filter="url(#bl)"/>
<path d="M1862.2,1383.6 L1874.1,1387.6 L1878,1395.5 L1866.2,1393.5Z" fill="#c8c8c8" filter="url(#bl)"/>
<path d="M1883.9,1350.1 L1895.8,1350.1 L1895.8,1360 L1883.9,1358Z" fill="#c8c8c8" filter="url(#bl)"/>
<path d="M2051.2,1331.8 L2066.3,1341.9 L2076.4,1362.1 L2081.5,1387.4 L2096.7,1412.7 L2101.7,1427.8 L2091.6,1427.8 L2076.4,1402.6 L2066.3,1377.3 L2053.7,1352Z" fill="#a0a0a0" filter="url(#bl)"/>
<path d="M2081.5,1367.2 L2096.7,1372.3 L2101.7,1392.5 L2111.8,1412.7 L2101.7,1412.7 L2089.1,1392.5Z" fill="#a0a0a0" filter="url(#bl)"/>
<path d="M2116.9,1367.2 L2137.1,1362.1 L2152.3,1382.4 L2157.3,1407.6 L2167.4,1427.8 L2154.8,1427.8 L2137.1,1412.7 L2121.9,1392.5Z" fill="#a0a0a0" filter="url(#bl)"/>
<path d="M2162.4,1301.5 L2182.6,1316.7 L2202.8,1336.9 L2217.9,1352 L2230.6,1372.3 L2230.6,1397.5 L2212.9,1402.6 L2192.7,1387.4 L2177.5,1367.2 L2172.5,1336.9Z" fill="#a0a0a0" filter="url(#bl)"/>
<path d="M2010.8,1369.7 L2036,1367.2 L2041.1,1382.4 L2020.9,1387.4 L2010.8,1402.6 L2018.3,1422.8 L2025.9,1432.9 L2015.8,1432.9 L2008.2,1412.7Z" fill="#a0a0a0" filter="url(#bl)"/>
<path d="M2101.7,1468.3 L2132,1463.2 L2152.3,1478.4 L2157.3,1496.1 L2137.1,1498.6 L2121.9,1486 L2104.2,1478.4Z" fill="#a0a0a0" filter="url(#bl)"/>
<path d="M2205.3,1468.3 L2228.1,1478.4 L2248.3,1496.1 L2248.3,1513.8 L2223,1503.6 L2207.8,1488.5Z" fill="#a0a0a0" filter="url(#bl)"/>
<path d="M2132,1498.6 L2152.3,1513.8 L2162.4,1539 L2167.4,1569.3 L2157.3,1574.4 L2147.2,1549.1 L2137.1,1523.9Z" fill="#a0a0a0" filter="url(#bl)"/>
<path d="M2147.2,1569.3 L2167.4,1574.4 L2172.5,1604.7 L2182.6,1630 L2167.4,1630 L2154.8,1604.7Z" fill="#a0a0a0" filter="url(#bl)"/>
<path d="M1985.5,1619.9 L2015.8,1624.9 L2041.1,1622.4 L2071.4,1627.5 L2091.6,1640.1 L2116.9,1650.2 L2137.1,1652.7 L2157.3,1655.3 L2182.6,1655.3 L2207.8,1655.3 L2250.3,1655.3 L2258.4,1672.9 L2217.9,1685.6 L2167.4,1693.2 L2132,1670.4 L2081.5,1662.8 L2031,1645.1 L1995.6,1627.5Z" fill="#a0a0a0" filter="url(#bl)"/>
<path d="M2182.6,1266.1 L2192.7,1271.2 L2207.8,1301.5 L2197.7,1301.5 L2185.1,1281.3Z" fill="#c8c8c8" filter="url(#bl)"/>
<path d="M2225.5,1286.3 L2238.2,1296.4 L2245.7,1321.7 L2238.2,1326.8 L2228.1,1306.6Z" fill="#c8c8c8" filter="url(#bl)"/>
<path d="M2106.8,1589.6 L2121.9,1594.6 L2142.1,1614.8 L2132,1619.9 L2114.3,1607.2Z" fill="#c8c8c8" filter="url(#bl)"/>
<path d="M2220.5,1554.2 L2243.2,1559.2 L2243.2,1584.5 L2225.5,1579.4Z" fill="#c8c8c8" filter="url(#bl)"/>
<path d="M2220.5,1607.2 L2238.2,1614.8 L2243.2,1635 L2228.1,1630Z" fill="#c8c8c8" filter="url(#bl)"/>
<path d="M2217.9,1235.8 L2228.1,1240.9 L2233.1,1261.1 L2223,1261.1Z" fill="#c8c8c8" filter="url(#bl)"/>
<path d="M2061.3,1321.7 L2081.5,1324.2 L2091.6,1341.9 L2076.4,1336.9Z" fill="#c8c8c8" filter="url(#bl)"/>
<path d="M2230.6,1412.7 L2245.7,1417.7 L2248.3,1437.9 L2235.6,1432.9Z" fill="#c8c8c8" filter="url(#bl)"/>
<path d="M2182.6,1513.8 L2192.7,1518.8 L2192.7,1539 L2182.6,1534Z" fill="#c8c8c8" filter="url(#bl)"/>
<path d="M2102.7,1466.4 L2143.3,1470.5 L2153.5,1486.8 L2133.2,1496.9 L2118.9,1488.8Z" fill="#b0b0b0" filter="url(#bl)"/>
<path d="M2200.3,1486.8 L2245,1486.8 L2245,1507.1 L2224.7,1501 L2204.3,1499Z" fill="#b0b0b0" filter="url(#bl)"/>
<path d="M2143.3,1521.3 L2167.7,1525.4 L2171.8,1545.7 L2163.7,1582.3 L2153.5,1598.6 L2143.3,1582.3 L2147.4,1553.9Z" fill="#b0b0b0" filter="url(#bl)"/>
<path d="M2220.6,1553.9 L2245,1553.9 L2245,1578.3 L2224.7,1574.2Z" fill="#b0b0b0" filter="url(#bl)"/>
<path d="M2110.8,1594.5 L2123,1592.5 L2135.2,1623 L2123,1623Z" fill="#b0b0b0" filter="url(#bl)"/>
<path d="M2155.5,1618.9 L2184,1623 L2184,1643.3 L2159.6,1639.3Z" fill="#b0b0b0" filter="url(#bl)"/>
<path d="M2220.6,1606.7 L2240.9,1610.8 L2240.9,1631.1 L2224.7,1627.1Z" fill="#b0b0b0" filter="url(#bl)"/>
<path d="M1986.8,1623 L2021.3,1625 L2062,1623 L2070.1,1629.1 L2094.5,1643.3 L2123,1651.5 L2143.3,1643.3 L2163.7,1655.5 L2204.3,1659.6 L2245,1655.5 L2265.3,1669.8 L2251.1,1684 L2163.7,1696.2 L2131.1,1669.8 L2090.5,1667.7 L2021.3,1645.4 L1980.7,1627.1Z" fill="#a0a0a0" filter="url(#bl)"/>
<g filter="url(#bl2)">
<path d="M832.1,1272.5 L851.8,1246.9 L865.6,1242.9 L851.8,1227.2 L865.6,1217.3 L881.4,1227.2 L905.1,1227.2 L909,1215.3 L920.8,1207.4 L942.5,1205.5 L946.5,1187.7 L958.3,1175.9 L976,1172 L978,1156.2 L974.1,1140.4 L966.2,1136.5 L962.2,1128.6 L968.2,1124.6 L978,1128.6 L989.8,1140.4 L1001.7,1156.2 L1011.5,1160.1 L1007.6,1140.4 L1001.7,1132.5 L1003.6,1122.7 L1011.5,1116.8 L1029.3,1108.9 L1032.2,1095.1 L1041.1,1093.1 L1052.9,1099 L1062.8,1103 L1066.7,1116.8 L1068.7,1132.5 L1076.6,1144.4 L1088.4,1150.3 L1102.2,1158.2 L1116,1160.1 L1123.9,1152.2 L1133.8,1148.3 L1141.7,1160.1 L1151.5,1172 L1163.4,1183.8 L1179.1,1197.6 L1194.9,1207.4 L1214.6,1219.3 L1226.4,1229.1 L1214.6,1231.1 L1202.8,1227.2 L1191,1231.1 L1194.9,1242.9 L1214.6,1244.9 L1226.4,1239 L1254,1227.2 L1273.8,1229.1 L1297.4,1231.1 L1301.4,1246.9 L1283.6,1258.7 L1263.9,1266.6 L1246.2,1256.7 L1234.3,1250.8 L1222.5,1258.7 L1206.7,1260.7 L1214.6,1274.5 L1226.4,1286.3 L1214.6,1292.2 L1194.9,1286.3 L1185,1294.2 L1175.2,1306 L1155.5,1313.9 L1135.7,1321.8 L1096.3,1337.6 L1056.9,1365.2 L1037.2,1404.6 L1017.4,1444 L958.3,1444 L918.9,1384.9 L840,1306 L832.1,1302.1Z" fill="#4254a9"/>
<path d="M527.3,1117 L535.9,1113.5 L551.4,1113.5 L558.3,1117 L558.3,1142.8 L549.7,1148 L541.1,1142.8 L529,1137.7 L529,1127.3Z" fill="#4254a9"/>
<path d="M610.1,1117 L623.9,1113.5 L625.6,1127.3 L627.3,1142.8 L611.8,1144.6 L610.1,1137.7 L613.5,1130.8Z" fill="#4254a9"/>
<path d="M634.2,1117 L648,1117 L653.2,1127.3 L653.2,1142.8 L637.7,1144.6 L636,1130.8Z" fill="#4254a9"/>
<path d="M625.6,1117 L634.2,1117 L636,1141.1 L627.3,1141.1Z" fill="#eceffd"/>
<path d="M742.1,1149.7 L754.2,1146.3 L755.9,1135.9 L769.7,1141.1 L769.7,1153.2 L762.8,1160.1 L742.1,1161.8Z" fill="#4254a9"/>
<path d="M833.5,1116.9 L852.5,1116.9 L859.4,1111.8 L866.3,1116.9 L866.3,1142.8 L852.5,1141.1 L850.8,1129 L845.6,1125.6 L833.5,1122.1Z" fill="#4254a9"/>
<path d="M830.1,1132.5 L837,1134.2 L849.1,1146.3 L849.1,1153.2 L835.3,1142.8Z" fill="#4254a9"/>
<path d="M774.9,1229.1 L785.2,1223.9 L799,1232.5 L799,1249.8 L790.4,1258.4 L776.6,1254.9 L773.2,1246.3Z" fill="#4254a9"/>
<path d="M800.8,1249.8 L814.6,1249.8 L818,1267 L811.1,1273.9 L800.8,1263.6Z" fill="#4254a9"/>
<path d="M928.4,1116.9 L960,1116.9 L960,1127.3 L938.8,1125.6 L928.4,1122.1Z" fill="#4254a9"/>
<path d="M950.4,1331.5 L978,1325.6 L1009.6,1329.6 L1029.3,1317.7 L1056.9,1311.8 L1086.5,1315.8 L1125.9,1319.7 L1147.6,1327.6 L1076.6,1345.3 L1037.2,1378.9 L1023.4,1410.4 L1017.4,1426.2 L978,1436 L962.2,1418.3 L962.2,1382.8 L950.4,1359.1Z" fill="#7a8cd2"/>
<path d="M1027.3,1335.5 L1041.1,1333.5 L1049,1351.3 L1037.2,1365.1 L1025.3,1359.1Z" fill="#c3cdf3"/>
<path d="M1066.7,1317.7 L1082.5,1321.7 L1076.6,1339.4 L1064.8,1335.5Z" fill="#c3cdf3"/>
<path d="M989.8,1406.5 L1017.4,1402.5 L1017.4,1426.2 L978,1436 L966.2,1426.2 L970.1,1410.4Z" fill="#c3cdf3"/>
<path d="M962.2,1351.3 L982,1349.3 L978,1365.1 L964.2,1365.1Z" fill="#c3cdf3"/>
<path d="M885.3,1274.5 L899.1,1274.5 L901.1,1292.2 L887.3,1292.2Z" fill="#7a8cd2"/>
<path d="M1033.2,1223.2 L1045.1,1221.3 L1054.9,1242.9 L1045.1,1246.9Z" fill="#7a8cd2"/>
<path d="M905.1,1473.5 L1009.6,1469.6 L1009.6,1520.8 L905.1,1520.8Z" fill="#dfe6fd"/>
<path d="M909,1504.1 L978,1504.1 L978,1514.9 L909,1514.9Z" fill="#4a66b8"/>
<path d="M1181.7,1220.6 L1196.1,1219.8 L1204.1,1227 L1202.5,1236.7 L1189.7,1236.7 L1181.7,1230.2Z" fill="#eceffd"/>
<path d="M1189.7,1243.1 L1212.1,1244.7 L1228.2,1244.7 L1241,1247.9 L1257,1260.7 L1260.2,1267.1 L1244.2,1292.7 L1231.4,1291.1 L1228.2,1276.7 L1218.5,1268.7 L1205.7,1260.7 L1189.7,1257.5Z" fill="#eceffd"/>
<path d="M1124,1260.7 L1140,1254.3 L1164.1,1252.7 L1176.9,1254.3 L1164.1,1260.7 L1148.1,1265.5 L1140,1276.7 L1132,1289.5 L1124,1279.9Z" fill="#eceffd"/>
<path d="M1151.3,1279.9 L1164.1,1279.9 L1164.1,1292.7 L1154.5,1292.7Z" fill="#eceffd"/>
<path d="M1212.1,1220.6 L1226.6,1222.2 L1225,1238.3 L1212.1,1243.1 L1204.1,1236.7 L1208.9,1227Z" fill="#eceffd"/>
<path d="M1249,1187 L1261.8,1187.8 L1266.6,1206.2 L1253.8,1207.8Z" fill="#7a8cd2"/>
<path d="M976,1079.3 L985.9,1079.3 L995.8,1095.1 L989.8,1097Z" fill="#7a8cd2"/>
<path d="M985.9,1059.6 L993.8,1059.6 L999.7,1075.3 L993.8,1075.3Z" fill="#7a8cd2"/>
<path d="M1086.5,1116.8 L1094.3,1114.8 L1104.2,1130.6 L1096.3,1132.5Z" fill="#7a8cd2"/>
<path d="M930.7,1116.8 L960.3,1116.8 L958.3,1126.6 L934.6,1124.6Z" fill="#7a8cd2"/>
<path d="M1152.1,1425.2 L1174.8,1425.2 L1188.9,1442.2 L1211.6,1445 L1234.3,1484.7 L1231.4,1496 L1191.8,1484.7 L1163.4,1459.2 L1146.4,1447.9Z" fill="#3f5eae"/>
<path d="M1156.3,1405.3 L1228.6,1402.5 L1259.8,1467.7 L1237.1,1493.2 L1211.6,1445 L1188.9,1442.2 L1174.8,1425.2 L1152.1,1425.2Z" fill="#e2e8fd"/>
<path d="M1153.5,1433.7 L1171.9,1432.3 L1173.3,1445 L1156.3,1446.4Z" fill="#e2e8fd"/>
<path d="M400.7,857.9 L411.9,857.9 L411.9,873.3 L408.1,873.3 L400.7,864.4Z" fill="#6f84cf"/>
<path d="M1527.9,1272.9 L1553.5,1292.7 L1569.3,1296.6 L1573.2,1280.8 L1600.8,1272.9 L1616.6,1280.8 L1632.4,1280.8 L1652.1,1288.7 L1663.9,1272.9 L1671.8,1257.2 L1683.6,1249.3 L1695.5,1257.2 L1715.2,1280.8 L1734.9,1300.5 L1754.6,1320.3 L1770.4,1336 L1778.3,1351.8 L1782.2,1371.5 L1774.3,1395.2 L1790.1,1414.9 L1798,1438.6 L1809.8,1454.3 L1798,1466.2 L1774.3,1454.3 L1758.6,1430.7 L1734.9,1414.9 L1719.1,1422.8 L1734.9,1450.4 L1750.7,1478 L1746.7,1501.7 L1727,1485.9 L1703.4,1454.3 L1683.6,1430.7 L1663.9,1422.8 L1648.1,1438.6 L1632.4,1422.8 L1620.5,1407 L1600.8,1399.1 L1585.1,1383.4 L1565.3,1375.5 L1553.5,1359.7 L1549.6,1336 L1545.6,1312.4 L1537.7,1292.7Z" fill="#4254a9"/>
<path d="M1619.3,1196.3 L1628.2,1198.3 L1641,1214.1 L1656.7,1223.9 L1672.5,1233.8 L1683.4,1241.7 L1685.3,1253.5 L1673.5,1253.5 L1663.6,1245.6 L1647.9,1236.7 L1632.1,1224.9 L1621.3,1212.1Z" fill="#4254a9"/>
<path d="M1549.6,1312.4 L1592.9,1316.3 L1612.7,1336 L1612.7,1363.6 L1553.5,1371.5Z" fill="#8193d6"/>
<path d="M1553.5,1375.5 L1585.1,1387.3 L1600.8,1403.1 L1620.5,1411 L1616.6,1422.8 L1592.9,1414.9 L1565.3,1403.1Z" fill="#8d9ddb"/>
<path d="M1576.9,1206.2 L1622.2,1198.3 L1628.2,1218 L1642,1229.8 L1657.7,1237.7 L1673.5,1245.6 L1677.4,1253.5 L1665.6,1261.4 L1661.7,1277.2 L1657.7,1291 L1649.8,1292.9 L1642,1279.1 L1618.3,1267.3 L1604.5,1279.1 L1594.6,1275.2 L1574.9,1269.3 L1559.1,1273.2 L1559.1,1291 L1567,1292.9 L1559.1,1294.9 L1551.3,1285.1 L1547.3,1269.3 L1535.5,1263.4 L1533.5,1253.5 L1543.4,1237.7 L1559.1,1229.8 L1574.9,1222Z" fill="#eceffd"/>
<path d="M1559.1,1243.6 L1569,1241.7 L1582.8,1253.5 L1602.5,1263.4 L1598.6,1269.3 L1578.9,1261.4 L1565.1,1253.5Z" fill="#7f90d3"/>
<path d="M1862.2,1262.4 L1882,1262.4 L1891.8,1267.3 L1891.8,1277.2 L1882,1279.1 L1878,1291 L1862.2,1289 L1858.3,1283.1Z" fill="#4458ad"/>
<path d="M1897.7,1277.2 L1911.5,1277.2 L1911.5,1289 L1897.7,1289Z" fill="#5b78c2"/>
<path d="M1740,1330.4 L1757.7,1334.3 L1771.5,1340.3 L1785.3,1344.2 L1785.3,1375.7 L1775.5,1383.6 L1763.7,1371.8 L1751.8,1356 L1740,1356Z" fill="#5365b7"/>
<path d="M1600.8,1407 L1624.5,1414.9 L1656,1454.3 L1679.7,1493.8 L1663.9,1501.7 L1632.4,1462.2Z" fill="#7a8cd2"/>
<path d="M1553.5,1407 L1569.3,1407 L1600.8,1446.4 L1624.5,1485.9 L1608.7,1489.8 L1577.2,1454.3Z" fill="#7a8cd2"/>
<path d="M1656,1430.7 L1679.7,1434.6 L1711.2,1478 L1734.9,1517.4 L1719.1,1525.3 L1687.6,1485.9Z" fill="#7a8cd2"/>
<path d="M1727,1489.8 L1746.7,1501.7 L1766.4,1525.3 L1750.7,1533.2 L1731,1513.5Z" fill="#4254a9"/>
<path d="M1545.6,1462.2 L1561.4,1458.3 L1592.9,1493.8 L1616.6,1521.4 L1600.8,1525.3 L1569.3,1497.7Z" fill="#7a8cd2"/>
<path d="M1632.4,1509.5 L1656,1513.5 L1679.7,1541.1 L1656,1545Z" fill="#4254a9"/>
<path d="M1474.6,1466.2 L1494.4,1462.2 L1502.2,1485.9 L1486.5,1489.8Z" fill="#4254a9"/>
<path d="M1683.6,1521.4 L1707.3,1525.3 L1734.9,1552.9 L1703.4,1552.9Z" fill="#7a8cd2"/>
<path d="M1577.2,1509.5 L1616.6,1521.4 L1632.4,1533.2 L1600.8,1533.2Z" fill="#4f6fb9"/>
<path d="M1403.7,1481.9 L1451,1493.8 L1482.5,1517.4 L1470.7,1525.3 L1435.2,1505.6 L1403.7,1493.8Z" fill="#4f6fb9"/>
<path d="M1774.3,1478 L1798,1470.1 L1813.8,1485.9 L1790.1,1497.7Z" fill="#7a8cd2"/>
<path d="M1845.3,1525.3 L1872.9,1529.3 L1853.2,1545 L1833.5,1549Z" fill="#7a8cd2"/>
<path d="M2053.9,1452.2 L2070.1,1454.2 L2094.5,1466.4 L2100.6,1476.6 L2082.3,1470.5 L2062,1462.4Z" fill="#4657ab"/>
<path d="M2025.4,1431.9 L2045.7,1433.9 L2066.1,1448.1 L2062,1454.2 L2045.7,1446.1 L2027.4,1440Z" fill="#4657ab"/>
<path d="M2035.6,1488.8 L2057.9,1488.8 L2062,1505.1 L2057.9,1525.4 L2070.1,1545.7 L2086.4,1560 L2080.3,1564 L2062,1549.8 L2045.7,1529.5 L2039.6,1509.1Z" fill="#4657ab"/>
<path d="M2094.5,1503 L2100.6,1507.1 L2112.8,1529.5 L2131.1,1539.6 L2131.1,1553.9 L2118.9,1549.8 L2104.7,1533.5Z" fill="#4657ab"/>
<path d="M1999,1557.9 L2021.3,1562 L2041.7,1564 L2066.1,1578.3 L2098.6,1580.3 L2098.6,1602.7 L2078.3,1594.5 L2053.9,1582.3 L2025.4,1572.2 L2001,1570.1Z" fill="#4657ab"/>
<path d="M1996.9,1580.3 L2005.1,1580.3 L2021.3,1594.5 L2045.7,1598.6 L2062,1608.8 L2066.1,1621 L2033.5,1621 L2009.1,1610.8 L1990.8,1612.8 L1994.9,1594.5Z" fill="#4657ab"/>
</g>
<path d="M828.2,1152.2 L840,1156.2 L851.8,1160.1 L869.6,1164.1 L889.3,1166 L909,1164.1 L924.8,1158.2 L932.7,1148.3 L936.6,1138.4 L946.5,1132.5 L958.3,1128.6 L964.2,1121.7 L972.1,1117.7 L987.9,1118.7 L999.7,1117.7 L1007.6,1112.8 L1011.5,1104.9 L1012.5,1093.1 L1010.5,1083.2 L1013.5,1076.3 L1023.4,1072.4 L1035.2,1067.5 L1045.1,1072.4 L1052.9,1074.4 L1058.9,1067.5 L1062.8,1059.6 L1066.7,1064.5 L1076.6,1066.5 L1092.4,1070.4 L1106.2,1070.4 L1120,1076.3 L1135.7,1081.3 L1147.6,1078.3 L1144.6,1091.1 L1143.6,1103 L1147.6,1112.8 L1151.5,1122.7 L1143.6,1132.5 L1131.8,1144.4 L1121.9,1156.2 L1116,1168 L1114.1,1181.8 L1112.1,1197.6 L1114.1,1211.4 L1120,1225.2 L1125.9,1237 L1123.9,1250.8 L1120,1266.6 L1118,1278.4 L1116,1292.2 L1112.1,1300.1 L1114.1,1306 L1123.9,1306 L1135.7,1300.1 L1147.6,1295.2 L1163.4,1294.2 L1171.2,1306 L1175.2,1321.8" fill="none" stroke="#b0b0b0" stroke-width="5.4" stroke-linejoin="round" stroke-linecap="round"/>
<path d="M976,1122.7 L980,1140.4 L988.9,1156.2 L991.8,1172 L984.9,1185.8 L982,1199.6 L986.9,1213.4 L992.8,1225.2 L995.8,1242.9 L992.8,1256.7 L978,1278.4 L966.2,1292.2 L958.3,1310 L952.4,1329.7 L948.4,1350" fill="none" stroke="#b0b0b0" stroke-width="5.4" stroke-linejoin="round" stroke-linecap="round"/>
<path d="M1011.5,1118.7 L1015.5,1132.5 L1013.5,1148.3 L1013.5,1168 L1011.5,1179.8 L1005.6,1193.6 L999.7,1207.4 L995.8,1219.3 L997.7,1235.1 L1001.7,1250.8 L1005.6,1266.6 L1007.6,1284.3 L1001.7,1300.1 L1005.6,1313.9 L1011.5,1329.7 L1013.5,1350" fill="none" stroke="#b0b0b0" stroke-width="5.4" stroke-linejoin="round" stroke-linecap="round"/>
<path d="M1013.5,1166 L1023.4,1172 L1035.2,1168 L1045.1,1175.9 L1054.9,1179.8 L1064.8,1177.9 L1068.7,1187.7 L1066.7,1203.5 L1072.7,1209.4 L1068.7,1223.2 L1062.8,1237 L1060.8,1246.9 L1064.8,1262.7 L1062.8,1282.4 L1066.7,1296.2 L1072.7,1306 L1082.5,1306 L1086.5,1317.9 L1090.4,1333.6 L1096.3,1341.5" fill="none" stroke="#b0b0b0" stroke-width="5.4" stroke-linejoin="round" stroke-linecap="round"/>
<path d="M1120,1274.5 L1096.3,1282.4 L1082.5,1292.2 L1079.6,1304.1" fill="none" stroke="#b0b0b0" stroke-width="5.4" stroke-linejoin="round" stroke-linecap="round"/>
<path d="M966.2,1300 L958.3,1319.7 L950.4,1335.5 L950.4,1351.3 L942.5,1359.1 L926.8,1363.1 L918.9,1373" fill="none" stroke="#b0b0b0" stroke-width="5.4" stroke-linejoin="round" stroke-linecap="round"/>
<path d="M999.7,1300 L1003.6,1311.8 L1011.5,1325.6 L1013.5,1339.4 L1009.6,1349.3 L1017.4,1365.1 L1021.4,1376.9" fill="none" stroke="#b0b0b0" stroke-width="5.4" stroke-linejoin="round" stroke-linecap="round"/>
<path d="M968.2,1365.1 L978,1355.2 L989.8,1351.3 L1003.6,1347.3 L1011.5,1351.3" fill="none" stroke="#b0b0b0" stroke-width="5.4" stroke-linejoin="round" stroke-linecap="round"/>
<path d="M964.2,1394.6 L964.2,1410.4 L970.1,1422.2 L976,1434.1" fill="none" stroke="#b0b0b0" stroke-width="5.4" stroke-linejoin="round" stroke-linecap="round"/>
<path d="M1068.7,1300 L1082.5,1305.9 L1088.4,1319.7 L1092.4,1335.5" fill="none" stroke="#b0b0b0" stroke-width="5.4" stroke-linejoin="round" stroke-linecap="round"/>
<path d="M532.5,1084.2 L542.8,1087.6 L556.6,1085.9 L570.4,1084.2 L584.2,1085.9 L598,1091.1 L611.8,1101.4 L625.6,1106.6 L639.4,1110.1 L646.3,1108.3 L649.8,1099.7 L660.1,1103.2 L673.9,1110.1 L684.3,1113.5 L691.2,1122.1 L701.5,1129 L715.3,1129 L725.7,1127.3 L729.1,1137.7 L730.9,1151.5 L734.3,1165.3 L740,1175.6" fill="none" stroke="#b0b0b0" stroke-width="5.4" stroke-linejoin="round" stroke-linecap="round"/>
<path d="M726.6,1127.3 L728.3,1135.9 L730,1156.6 L731.8,1170.4 L736.9,1180.8 L749,1184.2 L762.8,1185.9 L773.2,1191.1 L783.5,1199.7 L793.9,1208.4 L800.8,1211.8 L807.7,1213.5 L809.4,1222.2 L807.7,1232.5 L804.2,1242.9 L800.8,1253.2 L797.3,1263.6" fill="none" stroke="#b0b0b0" stroke-width="5.4" stroke-linejoin="round" stroke-linecap="round"/>
<path d="M804.2,1208.4 L811.1,1198 L821.5,1191.1 L824.9,1180.8 L824.9,1170.4 L830.1,1161.8 L840.4,1158.3 L849.1,1161.8 L859.4,1165.2 L876.7,1163.5 L890.5,1167 L907.7,1167 L925,1163.5 L933.6,1156.6 L935.3,1142.8 L942.2,1135.9 L960,1130.7 L973.3,1129" fill="none" stroke="#b0b0b0" stroke-width="5.4" stroke-linejoin="round" stroke-linecap="round"/>
<path d="M294.1,947.3 L300,945.8 L314.8,942.9 L329.6,944.4 L344.4,950.3 L353.3,962.1 L354.8,979.9 L359.2,990.2 L350.3,1009.5 L338.5,1024.3 L317.8,1036.1 L294.1,1042.1" fill="none" stroke="#b0b0b0" stroke-width="5.4" stroke-linejoin="round" stroke-linecap="round"/>
<path d="M348.9,950.3 L359.2,935.5 L371.1,914.7 L385.9,894 L397.7,886.6 L406.6,888.1 L415.5,899.9 L427.3,907.3 L448,914.7 L473.2,922.1" fill="none" stroke="#b0b0b0" stroke-width="5.4" stroke-linejoin="round" stroke-linecap="round"/>
<path d="M474.7,923.6 L476.2,944.4 L477.6,968 L479.1,985.8 L479.4,1003.6 L471.7,1021.3 L459.9,1045 L459.3,1065.7 L452.2,1086.5 L450.4,1104.2 L451.9,1116.1 L443.3,1133.8 L437.4,1151.6 L435.6,1175.3 L428.5,1196 L423.8,1216.7 L419.6,1243.4" fill="none" stroke="#b0b0b0" stroke-width="5.4" stroke-linejoin="round" stroke-linecap="round"/>
<path d="M1827.6,1125.1 L1829.5,1142.8 L1817.7,1166.5 L1798,1186.2 L1786.2,1209.8 L1778.3,1233.5 L1772.4,1257.2 L1770.4,1280.8 L1768.4,1304.5 L1758.6,1328.1 L1754.6,1351.8 L1752.6,1375.5 L1758.6,1395.2 L1778.3,1411 L1794,1422.8 L1803.9,1442.5 L1801.9,1462.2 L1786.2,1485.9 L1766.4,1505.6 L1754.6,1521.4" fill="none" stroke="#b0b0b0" stroke-width="5.4" stroke-linejoin="round" stroke-linecap="round"/>
<path d="M1695.5,1241.4 L1707.3,1233.5 L1723.1,1231.5 L1746.7,1239.4 L1770.4,1249.3" fill="none" stroke="#b0b0b0" stroke-width="5.4" stroke-linejoin="round" stroke-linecap="round"/>
<path d="M1695.5,1241.4 L1687.6,1261.1 L1681.7,1284.8 L1683.6,1308.4 L1679.7,1336 L1663.9,1351.8 L1640.3,1363.6 L1628.4,1375.5 L1636.3,1391.2 L1632.4,1403.1 L1616.6,1414.9 L1608.7,1438.6 L1592.9,1462.2 L1577.2,1485.9 L1569.3,1505.6 L1569.3,1525.3 L1577.2,1531.2" fill="none" stroke="#b0b0b0" stroke-width="5.4" stroke-linejoin="round" stroke-linecap="round"/>
<path d="M1553.5,1320.3 L1577.2,1328.1 L1594.9,1326.2 L1608.7,1340 L1606.7,1355.7 L1585.1,1363.6 L1553.5,1365.6" fill="none" stroke="#b0b0b0" stroke-width="5.4" stroke-linejoin="round" stroke-linecap="round"/>
<path d="M1508.2,1530.3 L1518,1522.9 L1537.7,1520.5 L1552.5,1527.9 L1572.2,1530.3 L1592,1527.9 L1606.7,1530.3 L1611.7,1547.6 L1619.1,1555 L1641.2,1552.5 L1656,1557.4 L1670.8,1550.1 L1685.6,1552.5 L1700.4,1550.1 L1715.2,1557.4 L1730,1562.4 L1744.8,1550.1" fill="none" stroke="#b0b0b0" stroke-width="5.4" stroke-linejoin="round" stroke-linecap="round"/>
<path d="M1394.8,1495.8 L1409.6,1500.8 L1429.3,1503.2 L1446.5,1513.1 L1463.8,1513.1 L1478.6,1527.9 L1493.4,1537.7 L1508.2,1552.5" fill="none" stroke="#b0b0b0" stroke-width="5.4" stroke-linejoin="round" stroke-linecap="round"/>
<path d="M1864.9,1440 L1859,1454.8 L1847.2,1466.6 L1833.9,1474 L1827.9,1484.4 L1817.6,1488.8 L1814.6,1493.2" fill="none" stroke="#b0b0b0" stroke-width="5.4" stroke-linejoin="round" stroke-linecap="round"/>
<path d="M1804.3,1440 L1802.8,1451.8 L1791,1469.6 L1779.1,1490.3 L1764.4,1511 L1752.5,1525.8 L1752.5,1534.6 L1758.4,1552.4 L1759.9,1567.2 L1757,1584.9" fill="none" stroke="#b0b0b0" stroke-width="5.4" stroke-linejoin="round" stroke-linecap="round"/>
<path d="M1768.8,1509.5 L1779.1,1502.1 L1791,1503.6 L1802.8,1499.1 L1811.7,1502.1 L1817.6,1513.9 L1823.5,1528.7 L1832.4,1537.6 L1826.5,1552.4 L1808.7,1561.3 L1791,1565.7" fill="none" stroke="#b0b0b0" stroke-width="5.4" stroke-linejoin="round" stroke-linecap="round"/>
<path d="M1832.4,1537.6 L1850.1,1549.4 L1867.9,1546.5 L1882.7,1534.6" fill="none" stroke="#b0b0b0" stroke-width="5.4" stroke-linejoin="round" stroke-linecap="round"/>
<path d="M2096.7,1309.1 L2111.8,1324.2 L2132,1341.9 L2147.2,1362.1 L2157.3,1382.4 L2172.5,1400 L2192.7,1417.7 L2207.8,1427.8 L2215.4,1443 L2210.4,1463.2 L2200.3,1483.4 L2195.2,1508.7 L2192.7,1539 L2200.3,1559.2 L2210.4,1587 L2202.8,1604.7 L2195.2,1627.5 L2187.6,1645.1 L2177.5,1657.8 L2167.4,1670.4" fill="none" stroke="#b0b0b0" stroke-width="5.4" stroke-linejoin="round" stroke-linecap="round"/>
<path d="M2207.8,1427.8 L2228.1,1437.9 L2258.4,1448.1" fill="none" stroke="#b0b0b0" stroke-width="5.4" stroke-linejoin="round" stroke-linecap="round"/>
</g>
<path d="M294.1,814.1 L470.2,814.1 L470.2,820 L489.5,828.9 L501.3,843.7 L505.8,858.5 L504.3,879.2 L504.3,892.5 L489.5,899.9 L476.8,908.8 L476.2,923.6 L477.6,944.4 L479.1,968 L480.6,985.8 L481.2,1003.6 L473.2,1021.3 L461.4,1045 L461.4,1065.7 L454,1086.5 L452.5,1104.2 L454,1116.1 L445.1,1133.8 L439.2,1151.6 L437.7,1175.3 L430.3,1196 L425.8,1216.7 L421.4,1243.4 L430.3,1261.2 L437.7,1276 L438.6,1290.8 L430.3,1299.6 L430.3,1308.5 L434.7,1313.9 L445.1,1313 L449.5,1299.6 L452.5,1284.8 L452.5,1270 L449.5,1258.2 L452.5,1253.8 L458.4,1256.7 L462.3,1264.1 L461.4,1281.9 L468.2,1296.7 L464.3,1311.5 L468.8,1329.3 L476.2,1350 L483.6,1364.8 L492.5,1381.1 L501.3,1376.6 L511.7,1366.3 L520.6,1373.7 L533.9,1381.1 L539.8,1389.9 L557.6,1392.9 L569.4,1389.9 L578.3,1404.8 L588.7,1424 L594.6,1435.8 L588.7,1450.6 L584.2,1465.4 L560.5,1471.4 L545.7,1474.3 L525,1468.4 L504.3,1461 L477.6,1453.6 L454,1452.1 L427.3,1449.2 L422.9,1441.8 L433.2,1435.8 L445.1,1427 L446.6,1412.2 L442.1,1397.4 L430.3,1382.5 L412.5,1370.7 L394.7,1361.8 L377,1357.4 L363.7,1350 L350.3,1348.5 L345.9,1355.9 L350.3,1361.8 L347.4,1373.7 L345.9,1384 L323.7,1381.1 L300,1372.2 L294.1,1370.7Z" fill="none" stroke="#000" stroke-width="6" stroke-linejoin="round"/>
<path d="M483,1030.2 L487.1,1026.1 L506.1,1026.6 L523.7,1028.8 L531,1024.7 L541.3,1022 L548.1,1024.7 L541.3,1030.2 L531.8,1031.5 L535.9,1041 L541.3,1051 L535.9,1061.3 L544,1062.7 L552.2,1054.6 L568.4,1046.4 L579.3,1043.7 L588.8,1038.3 L592.8,1047.8 L601,1038.3 L607.8,1038.3 L611.8,1046.4 L622.7,1051.8 L636.2,1058.6 L655.2,1058.6 L674.2,1066.8 L690.4,1072.2 L709.4,1077.6 L731.1,1084.4 L747.4,1087.1 L760.9,1091.2 L777.2,1087.1 L793.5,1081.7 L812.4,1080.3 L831.4,1079 L850.4,1074.9 L866.7,1066.8 L882.9,1055.9 L893.8,1042.4 L888.5,1048 L899.8,1036.7 L914,1025.3 L928.2,1016.8 L945.2,1008.3 L959.4,1004.1 L970.7,1002.7 L982,1006.9 L996.2,1012.6 L1010.4,1018.3 L1024.5,1022.5 L1038.7,1029.6 L1055.7,1033.9 L1072.7,1038.1 L1084.1,1045.2 L1095.4,1048 L1106.7,1052.3 L1120.9,1059.4 L1135.1,1067.9 L1149.3,1076.4 L1163.4,1083.5 L1177.6,1093.4 L1191.8,1101.9 L1205.9,1113.2 L1220.1,1123.1 L1231.4,1135.9 L1240,1147.2 L1248.5,1155.7 L1259.8,1167.1 L1268.3,1177 L1282.5,1182.6 L1296.6,1189.7 L1308,1198.2 L1313.6,1209.6 L1316.5,1222.3 L1310.8,1235.1 L1299.5,1249.3 L1285.3,1259.2 L1271.1,1264.8 L1259.8,1274.8 L1254.1,1286.1 L1248.5,1294.6 L1240,1296 L1231.4,1300.3 L1220.1,1294.6 L1205.9,1290.4 L1194.6,1291.8 L1186.1,1297.4 L1184.7,1308.8 L1177.6,1315.9 L1166.3,1320.1 L1152.1,1325.8 L1135.1,1332.9 L1120.9,1337.1 L1101.1,1337.1 L1086.9,1342.8 L1075.6,1351.3 L1064.2,1359.8 L1050.1,1369.7 L1037.2,1378.9 L1027.3,1388.7 L1023.4,1398.6 L1025.3,1410.4 L1023.4,1422.2 L1013.5,1428.2 L1007.6,1436 L1003.6,1443.9 L997.7,1449.8 L993.8,1455.8 L995.8,1463.6 L999.7,1473.5 L1005.6,1481.4 L1007.6,1489.3 L1001.7,1495.2 L993.8,1505.1 L982,1512.9 L966.2,1516.9 L942.5,1517.9 L922.8,1515.9 L909,1512 L906.1,1505.1 L908,1497.2 L916.9,1493.2 L926.8,1487.3 L932.7,1481.4 L944.5,1475.5 L958.3,1473.5 L963.2,1465.6 L960.3,1457.7 L955.3,1451.8 L956.3,1443.9 L962.2,1438 L960.3,1430.1 L956.3,1418.3 L948.4,1406.5 L938.6,1394.6 L926.8,1386.8 L916.9,1378.9 L907,1369 L903.1,1359.1 L893.2,1347.3 L879.4,1335.5 L863.9,1321.6 L850.4,1310.7 L836.8,1297.2 L820.6,1283.6 L804.3,1270.1 L785.3,1261.9 L766.3,1253.8 L747.4,1247 L731.1,1244.3 L720.3,1233.5 L704,1226.7 L687.7,1221.3 L666,1221.3 L644.3,1222.6 L622.7,1226.7 L606.4,1229.4 L595.6,1225.3 L583.4,1228.1 L579.3,1221.3 L568.4,1207.7 L554.9,1191.5 L541.3,1180.6 L537.3,1169.8 L525.1,1153.5 L514.2,1140 L503.4,1123.7 L492.5,1104.7 L488.5,1088.4 L487.1,1069.5 L487.1,1050.5 L481.7,1039.6Z" fill="none" stroke="#000" stroke-width="6" stroke-linejoin="round"/>
<path d="M1156.3,1406.8 L1163.4,1409.6 L1171.9,1403.9 L1186.1,1403.9 L1200.3,1405.3 L1217.3,1402.5 L1225.8,1405.3 L1231.4,1416.7 L1237.1,1428 L1242.8,1437.9 L1251.3,1445 L1258.4,1456.4 L1259.8,1467.7 L1254.1,1473.4 L1247,1481.9 L1245.6,1490.4 L1237.1,1496 L1231.4,1498.9 L1220.1,1494.6 L1208.8,1489 L1200.3,1487.5 L1191.8,1489 L1188.9,1479 L1180.4,1473.4 L1169.1,1467.7 L1160.6,1459.2 L1152.1,1453.5 L1143.6,1452.1 L1143.6,1442.2 L1140.8,1433.7 L1145,1428 L1149.3,1416.7Z" fill="none" stroke="#000" stroke-width="6" stroke-linejoin="round"/>
<path d="M1126.6,1412.4 L1132.2,1406.8 L1140.8,1402.5 L1147.8,1396.8 L1156.3,1398.3 L1156.3,1406.8 L1152.1,1416.7 L1145,1428 L1135.1,1428 L1135.1,1420.9 L1126.6,1415.3Z" fill="none" stroke="#000" stroke-width="6" stroke-linejoin="round"/>
<path d="M1548.3,1375.7 L1549.3,1360 L1548.3,1344.2 L1547.3,1328.4 L1544.4,1312.7 L1539.4,1300.8 L1533.5,1292.9 L1525.6,1289 L1522.7,1279.1 L1523.7,1267.3 L1527.6,1257.4 L1521.7,1253.5 L1525.6,1247.6 L1529.6,1237.7 L1535.5,1229.8 L1545.3,1226.9 L1557.2,1222 L1570,1218 L1573,1210.1 L1569,1202.2 L1574.9,1198.3 L1582.8,1200.3 L1594.6,1198.3 L1606.5,1194.4 L1614.4,1189.4 L1622.2,1182.5 L1632.1,1172.7 L1640,1162.8 L1647.9,1153 L1657.7,1143.1 L1669.6,1134.2 L1681.4,1126.3 L1695.2,1119.4 L1707,1112.5 L1718.9,1107.6 L1732.7,1102.7 L1744.5,1099.7 L1760.3,1104.6 L1776,1107.6 L1791.8,1109.6 L1807.6,1112.5 L1818.9,1118.4 L1826.8,1125.3 L1834.6,1132.2 L1846.5,1129.3 L1858.3,1133.2 L1874.1,1139.1 L1885.9,1143.1 L1897.7,1149 L1913.5,1149 L1925.3,1151 L1935.2,1158.9 L1943.1,1166.8 L1951,1176.6 L1956.9,1184.5 L1966.7,1188.4 L1972.7,1198.3 L1974.6,1210.1 L1973.6,1222 L1968.7,1233.8 L1966.7,1245.6 L1958.9,1255.5 L1949,1265.3 L1939.1,1275.2 L1933.2,1283.1 L1937.2,1291 L1941.1,1296.9 L1935.2,1302.8 L1931.3,1312.7 L1931.3,1324.5 L1937.2,1330.4 L1929.3,1338.3 L1919.4,1346.2 L1911.5,1356 L1907.6,1365.9 L1905.6,1375.7 L1899.7,1385.6 L1893.8,1395.5 L1867.9,1440 L1864.9,1448.9 L1860.5,1459.2 L1851.6,1468.1 L1841.3,1475.5 L1833.9,1481.4 L1830.9,1490.3 L1826.5,1496.2 L1817.6,1496.2 L1816.1,1500.6 L1823.5,1503.6 L1826.5,1509.5 L1823.5,1519.9 L1826.5,1525.8 L1833.9,1527.2 L1836.8,1519.9 L1842.7,1513.9 L1850.1,1509.5 L1856,1513.9 L1857.5,1522.8 L1853.1,1530.2 L1862,1531.7 L1869.4,1527.2 L1876.7,1527.2 L1888.6,1527.2 L1891.5,1531.7 L1882.7,1536.1 L1873.8,1540.6 L1876.7,1549.4 L1867.9,1553.9 L1856,1556.8 L1845.7,1561.3 L1836.8,1564.2 L1832.4,1558.3 L1829.4,1564.2 L1823.5,1567.2 L1814.6,1570.1 L1802.8,1570.1 L1791,1570.1 L1783.6,1565.7 L1785.1,1561.3 L1792.5,1555.3 L1796.9,1546.5 L1800.6,1534.6 L1802.8,1524.3 L1807.2,1518.4 L1813.2,1513.9 L1810.2,1508 L1804.3,1506.5 L1795.4,1511 L1789.5,1519.9 L1782.1,1513.9 L1774.7,1515.4 L1768.8,1522.8 L1765.8,1531.7 L1758.4,1528.7 L1754.8,1534.6 L1758.4,1543.5 L1764.4,1552.4 L1765.8,1562.7 L1762.9,1573.1 L1762.9,1584.9 L1758.4,1593.8 L1752.5,1595.3 L1745.1,1592.3 L1737.7,1589.4 L1742.2,1582 L1747.4,1573.1 L1746.6,1562.7 L1742.2,1558.3 L1733.3,1558.3 L1728.9,1565.7 L1727.4,1573.1 L1720,1570.1 L1725,1572.2 L1717.6,1569.8 L1710.3,1562.4 L1695.5,1557.4 L1685.6,1564.8 L1670.8,1562.4 L1656,1567.3 L1641.2,1564.8 L1626.5,1567.3 L1614.1,1562.4 L1609.2,1552.5 L1606.7,1537.7 L1596.9,1532.8 L1582.1,1537.7 L1567.3,1535.3 L1552.5,1542.7 L1537.7,1545.1 L1532.8,1537.7 L1542.7,1532.8 L1555,1527.9 L1547.6,1522.9 L1532.8,1525.4 L1518,1530.3 L1513.1,1537.7 L1520.5,1545.1 L1514.3,1552.5 L1518,1562.4 L1503.2,1557.4 L1490.9,1545.1 L1478.6,1535.3 L1466.3,1520.5 L1451.5,1522.9 L1436.7,1515.6 L1421.9,1508.2 L1404.6,1505.7 L1394.8,1498.3 L1392.3,1488.4 L1393.6,1473.7 L1389.9,1458.9 L1397.3,1444.1 L1407.1,1439.1 L1417,1441.6 L1421.9,1451.5 L1429.3,1456.4 L1441.6,1458.9 L1453.9,1463.8 L1466.3,1461.3 L1476.1,1451.5 L1483.5,1444.1 L1495.8,1444.1 L1505.7,1449 L1515.6,1441.6 L1527.9,1444.1 L1522.9,1453.9 L1525.4,1466.3 L1537.7,1471.2 L1545.1,1458.9 L1552.5,1449 L1537.7,1451.5 L1537.7,1439.1 L1542.7,1419.4 L1547.6,1399.7 L1550.1,1380Z" fill="none" stroke="#000" stroke-width="6" stroke-linejoin="round"/>
<path d="M2268.5,1205.5 L2250.3,1205.5 L2238.2,1201.7 L2228.1,1204.2 L2223,1215.6 L2215.4,1225.7 L2207.8,1235.8 L2197.7,1243.4 L2187.6,1248.4 L2177.5,1256 L2167.4,1263.6 L2162.4,1273.7 L2159.8,1288.9 L2149.7,1286.3 L2142.1,1276.2 L2132,1286.3 L2121.9,1291.4 L2111.8,1299 L2096.7,1306.6 L2081.5,1309.1 L2066.3,1311.6 L2053.7,1316.7 L2046.1,1324.2 L2041.1,1334.3 L2028.4,1341.9 L2015.8,1349.5 L2010.8,1362.1 L2005.7,1374.8 L2000.6,1387.4 L1990.5,1392.5 L1998.1,1400 L2005.7,1410.2 L2003.2,1425.3 L2008.2,1435.4 L2000.6,1440.5 L2005.1,1448.1 L2009.1,1460.3 L2017.3,1466.4 L2027.4,1474.6 L2035.6,1480.7 L2033.5,1488.8 L2037.6,1496.9 L2035.6,1505.1 L2025.4,1503 L2015.2,1494.9 L2011.2,1503 L2001,1511.2 L2003,1521.3 L1992.9,1529.5 L1978.6,1532.5 L1980.7,1541.7 L1988.8,1545.7 L1978.6,1551.8 L1972.5,1560 L1984.7,1566.1 L1980.7,1576.2 L1972.5,1586.4 L1966.4,1596.6 L1970.5,1604.7 L1980.7,1608.8 L1974.6,1618.9 L1980.7,1623 L1992.9,1629.1 L2007.1,1639.3 L2021.3,1641.3 L2035.6,1645.4 L2049.8,1649.4 L2066.1,1653.5 L2078.3,1659.6 L2090.5,1663.7 L2102.7,1655.5 L2114.9,1653.5 L2127.1,1655.5 L2131.1,1665.7 L2143.3,1673.8 L2155.5,1684 L2163.7,1692.1 L2179.9,1692.1 L2196.2,1686 L2212.5,1682 L2228.7,1679.9 L2245,1675.9 L2251.1,1669.8 L2285.7,1669.8Z" fill="none" stroke="#000" stroke-width="6" stroke-linejoin="round"/>
<path d="M976,1445.9 L970.1,1455.8 L974.1,1465.6 L982,1473.5 L991.8,1475.5 L995.8,1467.6 L989.8,1457.7 L982,1451.8Z" fill="#7aa0dc" stroke="#000" stroke-width="6" stroke-linejoin="round"/>
<path d="M2046.1,1253.5 L2058.8,1248.4 L2081.5,1245.9 L2104.2,1240.9 L2127,1240.9 L2121.9,1248.4 L2101.7,1253.5 L2081.5,1256 L2061.3,1258.5 L2058.8,1268.7 L2053.7,1261.1Z" fill="#e4e4e4" stroke="#000" stroke-width="6" stroke-linejoin="round"/>
<path d="M2137.1,1235.8 L2149.7,1228.2 L2167.4,1223.2 L2180,1210.5 L2190.2,1208 L2185.1,1223.2 L2167.4,1235.8 L2149.7,1243.4Z" fill="#e4e4e4" stroke="#000" stroke-width="6" stroke-linejoin="round"/>
<path d="M1998.1,1316.7 L2008.2,1304 L2015.8,1301.5 L2013.3,1316.7 L2003.2,1326.8Z" fill="#e4e4e4" stroke="#000" stroke-width="6" stroke-linejoin="round"/>
<path d="M2051.2,1291.4 L2066.3,1283.8 L2076.4,1286.3 L2061.3,1299Z" fill="#e4e4e4" stroke="#000" stroke-width="6" stroke-linejoin="round"/>
<path d="M1977.9,1254.8 L1990.5,1240.9 L1996.9,1238.3 L1994.3,1248.4 L1983,1258.5Z" fill="#e4e4e4" stroke="#000" stroke-width="6" stroke-linejoin="round"/>
<path d="M2202.8,1210.5 L2210.4,1209.3 L2210.4,1215.6 L2202.8,1216.9Z" fill="#000" stroke="#000" stroke-width="3" stroke-linejoin="round"/>
<path d="M1970.3,1407.6 L1979.2,1402.6 L1977.9,1410.2 L1971.6,1412.7Z" fill="#e4e4e4" stroke="#000" stroke-width="6" stroke-linejoin="round"/>
<path d="M1962.7,1449.3 L1971.6,1450.6 L1970.3,1454.4 L1962.7,1454.4Z" fill="#000" stroke="#000" stroke-width="3" stroke-linejoin="round"/>
<path d="M2025.9,1281.3 L2033.5,1283.8 L2028.4,1288.9Z" fill="#000" stroke="#000" stroke-width="3" stroke-linejoin="round"/>
<path d="M2032.2,1288.9 L2041.1,1290.1 L2038.5,1296.4Z" fill="#e4e4e4" stroke="#000" stroke-width="6" stroke-linejoin="round"/>
<path d="M1951,1147 L1956.9,1145.1 L1972.7,1158.9 L1982.5,1172.7 L1991.4,1184.5 L1988.4,1191.4 L1980.5,1188.4 L1966.7,1174.6 L1954.9,1160.8 L1949,1153Z" fill="#e4e4e4" stroke="#000" stroke-width="6" stroke-linejoin="round"/>
<path d="M1988.4,1237.7 L1996.3,1236.7 L1996.3,1247.6 L1986.5,1253.5 L1979.6,1258.4 L1978.6,1254.5 L1986.5,1247.6Z" fill="#e4e4e4" stroke="#000" stroke-width="6" stroke-linejoin="round"/>
<path d="M2000.3,1310.7 L2012.1,1298.9 L2018,1298.9 L2014.1,1316.6 L2004.2,1328.4 L1998.3,1326.5Z" fill="#e4e4e4" stroke="#000" stroke-width="6" stroke-linejoin="round"/>
<path d="M1947,1279.1 L1952.9,1279.1 L1952.9,1283.1 L1947,1283.1Z" fill="#000" stroke="#000" stroke-width="3" stroke-linejoin="round"/>
<path d="M2025.9,1283.1 L2031.8,1282.1 L2027.9,1289Z" fill="#000" stroke="#000" stroke-width="3" stroke-linejoin="round"/>
<path d="M2031.8,1289 L2039.7,1289 L2035.7,1294.9Z" fill="#000" stroke="#000" stroke-width="3" stroke-linejoin="round"/>
<path d="M1520.7,1188.4 L1527.6,1187.8 L1529.6,1194.4 L1526.6,1199.3 L1520.7,1198.3 L1519.1,1193.4Z" fill="#e4e4e4" stroke="#000" stroke-width="6" stroke-linejoin="round"/>
<path d="M1535.5,1189.4 L1542.4,1188.8 L1544.4,1195.3 L1541.4,1200.3 L1535.5,1199.3 L1533.9,1194.4Z" fill="#e4e4e4" stroke="#000" stroke-width="6" stroke-linejoin="round"/>
<path d="M1551.3,1193.4 L1558.2,1192.8 L1560.1,1199.3 L1557.2,1204.2 L1551.3,1203.2 L1549.7,1198.3Z" fill="#e4e4e4" stroke="#000" stroke-width="6" stroke-linejoin="round"/>
<path d="M497.8,985.8 L504.3,985.8 L504.3,991.1 L497.8,991.1Z" fill="#000" stroke="#000" stroke-width="3" stroke-linejoin="round"/>
<path d="M1228.6,1308.2 L1234.3,1308.2 L1234.3,1313.9 L1228.6,1313.9Z" fill="#000" stroke="#000" stroke-width="3" stroke-linejoin="round"/>
<polygon points="651.9,1074.9 682.9,1074.9 667.4,1047.9" fill="none" stroke="#000" stroke-width="1.4"/>
<polygon points="783.4,1106.1 814.4,1106.1 798.9,1079.1" fill="none" stroke="#000" stroke-width="1.4"/>
<polygon points="588.2,1174.7 619.2,1174.7 603.7,1147.7" fill="none" stroke="#000" stroke-width="1.4"/>
<polygon points="588.2,1194.7 619.2,1194.7 603.7,1167.7" fill="none" stroke="#000" stroke-width="1.4"/>
<polygon points="799.6,1272.8 830.6,1272.8 815.1,1245.8" fill="none" stroke="#000" stroke-width="1.4"/>
<polygon points="1079.4,1071.6 1110.4,1071.6 1094.9,1044.6" fill="none" stroke="#000" stroke-width="1.4"/>
<polygon points="1002.5,1159.4 1033.5,1159.4 1018,1132.4" fill="none" stroke="#000" stroke-width="1.4"/>
<polygon points="1234.4,1210.4 1265.4,1210.4 1249.9,1183.4" fill="none" stroke="#000" stroke-width="1.4"/>
<polygon points="1165,1289.8 1196,1289.8 1180.5,1262.8" fill="none" stroke="#000" stroke-width="1.4"/>
<polygon points="912.2,1336.5 943.2,1336.5 927.7,1309.5" fill="none" stroke="#000" stroke-width="1.4"/>
<polygon points="952.3,1368.6 983.3,1368.6 967.8,1341.6" fill="none" stroke="#000" stroke-width="1.4"/>
<polygon points="952.7,1455.8 983.7,1455.8 968.2,1428.8" fill="none" stroke="#000" stroke-width="1.4"/>
<polygon points="952.7,1462.7 983.7,1462.7 968.2,1435.7" fill="none" stroke="#000" stroke-width="1.4"/>
<polygon points="1178.3,1446.5 1209.3,1446.5 1193.8,1419.5" fill="none" stroke="#000" stroke-width="1.4"/>
<polygon points="1758.8,1120.3 1789.8,1120.3 1774.3,1093.3" fill="none" stroke="#000" stroke-width="1.4"/>
<polygon points="1838.9,1310.4 1869.9,1310.4 1854.4,1283.4" fill="none" stroke="#000" stroke-width="1.4"/>
<polygon points="1818,1385.3 1849,1385.3 1833.5,1358.3" fill="none" stroke="#000" stroke-width="1.4"/>
<polygon points="1551.8,1340 1582.8,1340 1567.3,1313" fill="none" stroke="#000" stroke-width="1.4"/>
<polygon points="1668.1,1472.1 1699.1,1472.1 1683.6,1445.1" fill="none" stroke="#000" stroke-width="1.4"/>
<polygon points="1667.3,1509.5 1698.3,1509.5 1682.8,1482.5" fill="none" stroke="#000" stroke-width="1.4"/>
<polygon points="1670.1,1552.9 1701.1,1552.9 1685.6,1525.9" fill="none" stroke="#000" stroke-width="1.4"/>
<polygon points="1443.4,1491.8 1474.4,1491.8 1458.9,1464.8" fill="none" stroke="#000" stroke-width="1.4"/>
<polygon points="2017.5,1541.5 2048.5,1541.5 2033,1514.5" fill="none" stroke="#000" stroke-width="1.4"/>
<polygon points="339.3,840.1 370.3,840.1 354.8,813.1" fill="none" stroke="#000" stroke-width="1.4"/>
<circle cx="441.5" cy="1094.8" r="11.5" fill="#000"/>
<text transform="translate(455.1 1095.5) scale(1 1.044)" font-family='"Liberation Sans", sans-serif' font-size="41.5" font-weight="bold" stroke="#000" stroke-width="0.35">Banyuwangi</text>
<circle cx="950" cy="1279" r="11.5" fill="#000"/>
<text transform="translate(965.6 1280.2) scale(1 1.044)" font-family='"Liberation Sans", sans-serif' font-size="41.5" font-weight="bold" stroke="#000" stroke-width="0.35">Badung</text>
<circle cx="950" cy="1398.1" r="11.5" fill="#000"/>
<text transform="translate(965 1399.7) scale(1 1.044)" font-family='"Liberation Sans", sans-serif' font-size="41.5" font-weight="bold" stroke="#000" stroke-width="0.35">Denpasar</text>
<circle cx="1599.6" cy="1191.3" r="11.5" fill="#000"/>
<text transform="translate(1613.5 1193.3) scale(1 1.044)" font-family='"Liberation Sans", sans-serif' font-size="41.5" font-weight="bold" stroke="#000" stroke-width="0.35">Tanjung</text>
<circle cx="1621.7" cy="1333.3" r="11.5" fill="#000"/>
<text transform="translate(1635.2 1335.2) scale(1 1.044)" font-family='"Liberation Sans", sans-serif' font-size="41.5" font-weight="bold" stroke="#000" stroke-width="0.35">Mataram</text>
<circle cx="2055" cy="1453.6" r="11.5" fill="#000"/>
<text transform="translate(2075.5 1455.1) scale(1 1.044)" font-family='"Liberation Sans", sans-serif' font-size="41.5" font-weight="bold" stroke="#000" stroke-width="0.35">Taliwang</text>
</g>
<polygon points="1275,1742.2 1285.1,1773.1 1317.7,1773.1 1291.3,1792.3 1301.4,1823.3 1275,1804.1 1248.6,1823.3 1258.7,1792.3 1232.3,1773.1 1264.9,1773.1" fill="none" stroke="#ff0000" stroke-width="6.15" stroke-linejoin="miter" stroke-miterlimit="10"/>
<rect x="450.2" y="2547.4" width="299.50000000000006" height="11.599999999999909" fill="#fff" stroke="#000" stroke-width="2"/>
<rect x="450.2" y="2546.4" width="59.9" height="13.6" fill="#000"/>
<rect x="570" y="2546.4" width="59.9" height="13.6" fill="#000"/>
<rect x="689.8" y="2546.4" width="59.9" height="13.6" fill="#000"/>
<line x1="450.2" y1="2559" x2="450.2" y2="2569.5" stroke="#000" stroke-width="2"/>
<line x1="510.1" y1="2559" x2="510.1" y2="2565" stroke="#000" stroke-width="2"/>
<line x1="570" y1="2559" x2="570" y2="2565" stroke="#000" stroke-width="2"/>
<line x1="629.9" y1="2559" x2="629.9" y2="2565" stroke="#000" stroke-width="2"/>
<line x1="689.8" y1="2559" x2="689.8" y2="2565" stroke="#000" stroke-width="2"/>
<line x1="749.7" y1="2559" x2="749.7" y2="2569.5" stroke="#000" stroke-width="2"/>
<text transform="translate(600.3 2513.5) scale(1 1.044)" font-family='"Liberation Sans", sans-serif' font-size="64" text-anchor="middle" letter-spacing="2.7" stroke="#000" stroke-width="0.5">km</text>
<text transform="translate(450.5 2630) scale(1 1.044)" font-family='"Liberation Sans", sans-serif' font-size="58.5" text-anchor="middle" stroke="#000" stroke-width="0.5">0</text>
<text transform="translate(749 2630) scale(1 1.044)" font-family='"Liberation Sans", sans-serif' font-size="58.5" text-anchor="middle" stroke="#000" stroke-width="0.5">50</text>
<text transform="translate(235.2 987.4) scale(1 1.044)" font-family='"Liberation Sans", sans-serif' font-size="58.5" text-anchor="end" stroke="#000" stroke-width="0.5">-8</text>
<circle cx="245.5" cy="947.5" r="3.8" fill="none" stroke="#000" stroke-width="3.4"/>
<text transform="translate(235.2 1313) scale(1 1.044)" font-family='"Liberation Sans", sans-serif' font-size="58.5" text-anchor="end" stroke="#000" stroke-width="0.5">-8.5</text>
<circle cx="245.5" cy="1273.1" r="3.8" fill="none" stroke="#000" stroke-width="3.4"/>
<text transform="translate(235.2 1641) scale(1 1.044)" font-family='"Liberation Sans", sans-serif' font-size="58.5" text-anchor="end" stroke="#000" stroke-width="0.5">-9</text>
<circle cx="245.5" cy="1601.1" r="3.8" fill="none" stroke="#000" stroke-width="3.4"/>
<text transform="translate(235.2 1966) scale(1 1.044)" font-family='"Liberation Sans", sans-serif' font-size="58.5" text-anchor="end" stroke="#000" stroke-width="0.5">-9.5</text>
<circle cx="245.5" cy="1926.1" r="3.8" fill="none" stroke="#000" stroke-width="3.4"/>
<text transform="translate(235.2 2295.4) scale(1 1.044)" font-family='"Liberation Sans", sans-serif' font-size="58.5" text-anchor="end" stroke="#000" stroke-width="0.5">-10</text>
<circle cx="245.5" cy="2255.5" r="3.8" fill="none" stroke="#000" stroke-width="3.4"/>
<text transform="translate(235.2 2621.7) scale(1 1.044)" font-family='"Liberation Sans", sans-serif' font-size="58.5" text-anchor="end" stroke="#000" stroke-width="0.5">-10.5</text>
<circle cx="245.5" cy="2581.8" r="3.8" fill="none" stroke="#000" stroke-width="3.4"/>
<text transform="translate(843 2847) scale(1 1.044)" font-family='"Liberation Sans", sans-serif' font-size="58.5" text-anchor="middle" stroke="#000" stroke-width="0.5">115</text>
<circle cx="900.5" cy="2808.3" r="3.8" fill="none" stroke="#000" stroke-width="3.4"/>
<text transform="translate(1493 2847) scale(1 1.044)" font-family='"Liberation Sans", sans-serif' font-size="58.5" text-anchor="middle" stroke="#000" stroke-width="0.5">116</text>
<circle cx="1550.5" cy="2808.3" r="3.8" fill="none" stroke="#000" stroke-width="3.4"/>
<text transform="translate(2143 2847) scale(1 1.044)" font-family='"Liberation Sans", sans-serif' font-size="58.5" text-anchor="middle" stroke="#000" stroke-width="0.5">117</text>
<circle cx="2200.5" cy="2808.3" r="3.8" fill="none" stroke="#000" stroke-width="3.4"/>
<text transform="translate(300 2907.3) scale(1 1.044)" font-family='"Liberation Sans", sans-serif' font-size="37.3" font-weight="bold" stroke="#000" stroke-width="0.35">Map Version 1</text>
<defs>
<linearGradient id="g0" x1="0" x2="1" y1="0" y2="0"><stop offset="0" stop-color="#ffffff"/><stop offset="0.1" stop-color="#ffffff"/><stop offset="0.2" stop-color="#ffffff"/><stop offset="0.4" stop-color="#ffffff"/><stop offset="0.5" stop-color="#ffffff"/><stop offset="0.6" stop-color="#f7f9ff"/><stop offset="0.8" stop-color="#eff2ff"/><stop offset="0.9" stop-color="#e7ecff"/><stop offset="1" stop-color="#dfe6ff"/></linearGradient>
<linearGradient id="g1" x1="0" x2="1" y1="0" y2="0"><stop offset="0" stop-color="#dfe6ff"/><stop offset="0.1" stop-color="#cfd9ff"/><stop offset="0.2" stop-color="#bfccff"/><stop offset="0.4" stop-color="#b7d2ff"/><stop offset="0.5" stop-color="#b0d9ff"/><stop offset="0.6" stop-color="#a8e0ff"/><stop offset="0.8" stop-color="#a0e6ff"/><stop offset="0.9" stop-color="#98ecff"/><stop offset="1" stop-color="#90f2ff"/></linearGradient>
<linearGradient id="g2" x1="0" x2="1" y1="0" y2="0"><stop offset="0" stop-color="#90f2ff"/><stop offset="0.1" stop-color="#8cf6ff"/><stop offset="0.2" stop-color="#88f9ff"/><stop offset="0.4" stop-color="#84fcff"/><stop offset="0.5" stop-color="#80ffff"/><stop offset="0.6" stop-color="#7ffff2"/><stop offset="0.8" stop-color="#7effe4"/><stop offset="0.9" stop-color="#7effd6"/><stop offset="1" stop-color="#7dffc9"/></linearGradient>
<linearGradient id="g3" x1="0" x2="1" y1="0" y2="0"><stop offset="0" stop-color="#7dffc9"/><stop offset="0.1" stop-color="#7cffbc"/><stop offset="0.2" stop-color="#7cffae"/><stop offset="0.4" stop-color="#7bffa0"/><stop offset="0.5" stop-color="#7aff93"/><stop offset="0.6" stop-color="#8bff81"/><stop offset="0.8" stop-color="#9bff6e"/><stop offset="0.9" stop-color="#acff5c"/><stop offset="1" stop-color="#bcff4a"/></linearGradient>
<linearGradient id="g4" x1="0" x2="1" y1="0" y2="0"><stop offset="0" stop-color="#bcff4a"/><stop offset="0.1" stop-color="#cdff37"/><stop offset="0.2" stop-color="#deff25"/><stop offset="0.4" stop-color="#eeff12"/><stop offset="0.5" stop-color="#ffff00"/><stop offset="0.6" stop-color="#fff800"/><stop offset="0.8" stop-color="#fff100"/><stop offset="0.9" stop-color="#ffea00"/><stop offset="1" stop-color="#ffe400"/></linearGradient>
<linearGradient id="g5" x1="0" x2="1" y1="0" y2="0"><stop offset="0" stop-color="#ffe400"/><stop offset="0.1" stop-color="#ffdd00"/><stop offset="0.2" stop-color="#ffd600"/><stop offset="0.4" stop-color="#ffcf00"/><stop offset="0.5" stop-color="#ffc800"/><stop offset="0.6" stop-color="#ffc100"/><stop offset="0.8" stop-color="#ffba00"/><stop offset="0.9" stop-color="#ffb300"/><stop offset="1" stop-color="#ffac00"/></linearGradient>
<linearGradient id="g6" x1="0" x2="1" y1="0" y2="0"><stop offset="0" stop-color="#ffac00"/><stop offset="0.1" stop-color="#ffa600"/><stop offset="0.2" stop-color="#ff9f00"/><stop offset="0.4" stop-color="#ff9800"/><stop offset="0.5" stop-color="#ff9100"/><stop offset="0.6" stop-color="#ff7f00"/><stop offset="0.8" stop-color="#ff6d00"/><stop offset="0.9" stop-color="#ff5b00"/><stop offset="1" stop-color="#ff4800"/></linearGradient>
<linearGradient id="g7" x1="0" x2="1" y1="0" y2="0"><stop offset="0" stop-color="#ff4800"/><stop offset="0.1" stop-color="#ff3600"/><stop offset="0.2" stop-color="#ff2400"/><stop offset="0.4" stop-color="#ff1200"/><stop offset="0.5" stop-color="#ff0000"/><stop offset="0.6" stop-color="#f80000"/><stop offset="0.8" stop-color="#f10000"/><stop offset="0.9" stop-color="#ea0000"/><stop offset="1" stop-color="#e40000"/></linearGradient>
<linearGradient id="g8" x1="0" x2="1" y1="0" y2="0"><stop offset="0" stop-color="#e40000"/><stop offset="0.1" stop-color="#dd0000"/><stop offset="0.2" stop-color="#d60000"/><stop offset="0.4" stop-color="#cf0000"/><stop offset="0.5" stop-color="#c80000"/><stop offset="0.6" stop-color="#c80000"/><stop offset="0.8" stop-color="#c80000"/><stop offset="0.9" stop-color="#c80000"/><stop offset="1" stop-color="#c80000"/></linearGradient>
</defs>
<rect x="540.6" y="3282.6" width="164.2" height="71.4" fill="url(#g0)"/>
<rect x="704.8" y="3282.6" width="165.5" height="71.4" fill="url(#g1)"/>
<rect x="870.3" y="3282.6" width="178.9" height="71.4" fill="url(#g2)"/>
<rect x="1049.2" y="3282.6" width="195.8" height="71.4" fill="url(#g3)"/>
<rect x="1245" y="3282.6" width="180.1" height="71.4" fill="url(#g4)"/>
<rect x="1425.1" y="3282.6" width="240.2" height="71.4" fill="url(#g5)"/>
<rect x="1665.3" y="3282.6" width="240.2" height="71.4" fill="url(#g6)"/>
<rect x="1905.5" y="3282.6" width="195.1" height="71.4" fill="url(#g7)"/>
<rect x="2100.6" y="3282.6" width="220.4" height="71.4" fill="url(#g8)"/>
<rect x="224.9" y="2983.2" width="2100.3" height="374.4" fill="none" stroke="#000" stroke-width="7.4"/>
<line x1="540.6" y1="2985" x2="540.6" y2="3356" stroke="#000" stroke-width="3.4"/>
<line x1="704.8" y1="2985" x2="704.8" y2="3356" stroke="#000" stroke-width="3.4"/>
<line x1="870.3" y1="2985" x2="870.3" y2="3356" stroke="#000" stroke-width="3.4"/>
<line x1="1049.2" y1="2985" x2="1049.2" y2="3356" stroke="#000" stroke-width="3.4"/>
<line x1="1245" y1="2985" x2="1245" y2="3356" stroke="#000" stroke-width="3.4"/>
<line x1="1425.1" y1="2985" x2="1425.1" y2="3356" stroke="#000" stroke-width="3.4"/>
<line x1="1665.3" y1="2985" x2="1665.3" y2="3356" stroke="#000" stroke-width="3.4"/>
<line x1="1905.5" y1="2985" x2="1905.5" y2="3356" stroke="#000" stroke-width="3.4"/>
<line x1="2100.6" y1="2985" x2="2100.6" y2="3356" stroke="#000" stroke-width="3.4"/>
<line x1="226" y1="3058" x2="2323" y2="3058" stroke="#000" stroke-width="3.4"/>
<line x1="226" y1="3132.5" x2="2323" y2="3132.5" stroke="#000" stroke-width="3.4"/>
<line x1="226" y1="3207.4" x2="2323" y2="3207.4" stroke="#000" stroke-width="3.4"/>
<line x1="226" y1="3282.6" x2="2323" y2="3282.6" stroke="#000" stroke-width="3.4"/>
<text transform="translate(378.8 3018.3) scale(1 1.044)" font-family='"Liberation Sans", sans-serif' font-size="33.1" text-anchor="middle" font-weight="bold" stroke="#000" stroke-width="0.35">PERCEIVED</text>
<text transform="translate(382.6 3050) scale(1 1.044)" font-family='"Liberation Sans", sans-serif' font-size="33.1" text-anchor="middle" font-weight="bold" stroke="#000" stroke-width="0.35">SHAKING</text>
<text transform="translate(378.8 3092.4) scale(1 1.044)" font-family='"Liberation Sans", sans-serif' font-size="33.1" text-anchor="middle" font-weight="bold" stroke="#000" stroke-width="0.35">POTENTIAL</text>
<text transform="translate(382.9 3123.8) scale(1 1.044)" font-family='"Liberation Sans", sans-serif' font-size="33.1" text-anchor="middle" font-weight="bold" stroke="#000" stroke-width="0.35">DAMAGE</text>
<text transform="translate(383.1 3182.1) scale(1 1.044)" font-family='"Liberation Sans", sans-serif' font-size="33.1" text-anchor="middle" font-weight="bold" stroke="#000" stroke-width="0.35">PEAK ACC.(%g)</text>
<text transform="translate(383.3 3257.2) scale(1 1.044)" font-family='"Liberation Sans", sans-serif' font-size="33.1" text-anchor="middle" font-weight="bold" stroke="#000" stroke-width="0.35">PEAK VEL.(cm/s)</text>
<text transform="translate(378.8 3317.8) scale(1 1.044)" font-family='"Liberation Sans", sans-serif' font-size="33.1" text-anchor="middle" font-weight="bold" stroke="#000" stroke-width="0.35">INSTRUMENTAL</text>
<text transform="translate(383.1 3348.8) scale(1 1.044)" font-family='"Liberation Sans", sans-serif' font-size="33.1" text-anchor="middle" font-weight="bold" stroke="#000" stroke-width="0.35">INTENSITY</text>
<text transform="translate(622.7 3036.1) scale(1 1.044)" font-family='"Liberation Sans", sans-serif' font-size="42.2" text-anchor="middle" stroke="#000" stroke-width="0.5">Not felt</text>
<text transform="translate(787.5 3036.1) scale(1 1.044)" font-family='"Liberation Sans", sans-serif' font-size="42.2" text-anchor="middle" stroke="#000" stroke-width="0.5">Weak</text>
<text transform="translate(959.8 3036.1) scale(1 1.044)" font-family='"Liberation Sans", sans-serif' font-size="42.2" text-anchor="middle" stroke="#000" stroke-width="0.5">Light</text>
<text transform="translate(1147.1 3036.1) scale(1 1.044)" font-family='"Liberation Sans", sans-serif' font-size="42.2" text-anchor="middle" stroke="#000" stroke-width="0.5">Moderate</text>
<text transform="translate(1335 3036.1) scale(1 1.044)" font-family='"Liberation Sans", sans-serif' font-size="42.2" text-anchor="middle" stroke="#000" stroke-width="0.5">Strong</text>
<text transform="translate(1545.2 3036.1) scale(1 1.044)" font-family='"Liberation Sans", sans-serif' font-size="42.2" text-anchor="middle" stroke="#000" stroke-width="0.5">Very strong</text>
<text transform="translate(1785.4 3036.1) scale(1 1.044)" font-family='"Liberation Sans", sans-serif' font-size="42.2" text-anchor="middle" stroke="#000" stroke-width="0.5">Severe</text>
<text transform="translate(2003 3036.1) scale(1 1.044)" font-family='"Liberation Sans", sans-serif' font-size="42.2" text-anchor="middle" stroke="#000" stroke-width="0.5">Violent</text>
<text transform="translate(2210.8 3036.1) scale(1 1.044)" font-family='"Liberation Sans", sans-serif' font-size="42.2" text-anchor="middle" stroke="#000" stroke-width="0.5">Extreme</text>
<text transform="translate(622.7 3110.2) scale(1 1.044)" font-family='"Liberation Sans", sans-serif' font-size="38.2" text-anchor="middle" stroke="#000" stroke-width="0.5">none</text>
<text transform="translate(787.5 3110.2) scale(1 1.044)" font-family='"Liberation Sans", sans-serif' font-size="38.2" text-anchor="middle" stroke="#000" stroke-width="0.5">none</text>
<text transform="translate(959.8 3110.2) scale(1 1.044)" font-family='"Liberation Sans", sans-serif' font-size="38.2" text-anchor="middle" stroke="#000" stroke-width="0.5">none</text>
<text transform="translate(1147.1 3110.2) scale(1 1.044)" font-family='"Liberation Sans", sans-serif' font-size="38.2" text-anchor="middle" stroke="#000" stroke-width="0.5">Very light</text>
<text transform="translate(1335 3110.2) scale(1 1.044)" font-family='"Liberation Sans", sans-serif' font-size="38.2" text-anchor="middle" stroke="#000" stroke-width="0.5">Light</text>
<text transform="translate(1545.2 3110.2) scale(1 1.044)" font-family='"Liberation Sans", sans-serif' font-size="38.2" text-anchor="middle" stroke="#000" stroke-width="0.5">Moderate</text>
<text transform="translate(1785.4 3110.2) scale(1 1.044)" font-family='"Liberation Sans", sans-serif' font-size="38.2" text-anchor="middle" stroke="#000" stroke-width="0.5">Mod./Heavy</text>
<text transform="translate(2003 3110.2) scale(1 1.044)" font-family='"Liberation Sans", sans-serif' font-size="38.2" text-anchor="middle" stroke="#000" stroke-width="0.5">Heavy</text>
<text transform="translate(2210.8 3110.2) scale(1 1.044)" font-family='"Liberation Sans", sans-serif' font-size="38.2" text-anchor="middle" stroke="#000" stroke-width="0.5">Very Heavy</text>
<text transform="translate(622.7 3186.6) scale(1 1.044)" font-family='"Liberation Sans", sans-serif' font-size="42.3" text-anchor="middle" stroke="#000" stroke-width="0.5">&lt;0.05</text>
<text transform="translate(787.5 3186.6) scale(1 1.044)" font-family='"Liberation Sans", sans-serif' font-size="42.3" text-anchor="middle" stroke="#000" stroke-width="0.5">0.3</text>
<text transform="translate(959.8 3186.6) scale(1 1.044)" font-family='"Liberation Sans", sans-serif' font-size="42.3" text-anchor="middle" stroke="#000" stroke-width="0.5">2.8</text>
<text transform="translate(1147.1 3186.6) scale(1 1.044)" font-family='"Liberation Sans", sans-serif' font-size="42.3" text-anchor="middle" stroke="#000" stroke-width="0.5">6.2</text>
<text transform="translate(1335 3186.6) scale(1 1.044)" font-family='"Liberation Sans", sans-serif' font-size="42.3" text-anchor="middle" stroke="#000" stroke-width="0.5">12</text>
<text transform="translate(1545.2 3186.6) scale(1 1.044)" font-family='"Liberation Sans", sans-serif' font-size="42.3" text-anchor="middle" stroke="#000" stroke-width="0.5">22</text>
<text transform="translate(1785.4 3186.6) scale(1 1.044)" font-family='"Liberation Sans", sans-serif' font-size="42.3" text-anchor="middle" stroke="#000" stroke-width="0.5">40</text>
<text transform="translate(2003 3186.6) scale(1 1.044)" font-family='"Liberation Sans", sans-serif' font-size="42.3" text-anchor="middle" stroke="#000" stroke-width="0.5">75</text>
<text transform="translate(2210.8 3186.6) scale(1 1.044)" font-family='"Liberation Sans", sans-serif' font-size="42.3" text-anchor="middle" stroke="#000" stroke-width="0.5">&gt;139</text>
<text transform="translate(622.7 3260.5) scale(1 1.044)" font-family='"Liberation Sans", sans-serif' font-size="43.5" text-anchor="middle" font-weight="bold" font-style="italic" stroke="#000" stroke-width="0.35">&lt;0.02</text>
<text transform="translate(787.5 3260.5) scale(1 1.044)" font-family='"Liberation Sans", sans-serif' font-size="43.5" text-anchor="middle" font-weight="bold" font-style="italic" stroke="#000" stroke-width="0.35">0.1</text>
<text transform="translate(959.8 3260.5) scale(1 1.044)" font-family='"Liberation Sans", sans-serif' font-size="43.5" text-anchor="middle" font-weight="bold" font-style="italic" stroke="#000" stroke-width="0.35">1.4</text>
<text transform="translate(1147.1 3260.5) scale(1 1.044)" font-family='"Liberation Sans", sans-serif' font-size="43.5" text-anchor="middle" font-weight="bold" font-style="italic" stroke="#000" stroke-width="0.35">4.7</text>
<text transform="translate(1335 3260.5) scale(1 1.044)" font-family='"Liberation Sans", sans-serif' font-size="43.5" text-anchor="middle" font-weight="bold" font-style="italic" stroke="#000" stroke-width="0.35">9.6</text>
<text transform="translate(1545.2 3260.5) scale(1 1.044)" font-family='"Liberation Sans", sans-serif' font-size="43.5" text-anchor="middle" font-weight="bold" font-style="italic" stroke="#000" stroke-width="0.35">20</text>
<text transform="translate(1785.4 3260.5) scale(1 1.044)" font-family='"Liberation Sans", sans-serif' font-size="43.5" text-anchor="middle" font-weight="bold" font-style="italic" stroke="#000" stroke-width="0.35">41</text>
<text transform="translate(2003 3260.5) scale(1 1.044)" font-family='"Liberation Sans", sans-serif' font-size="43.5" text-anchor="middle" font-weight="bold" font-style="italic" stroke="#000" stroke-width="0.35">86</text>
<text transform="translate(2210.8 3260.5) scale(1 1.044)" font-family='"Liberation Sans", sans-serif' font-size="43.5" text-anchor="middle" font-weight="bold" font-style="italic" stroke="#000" stroke-width="0.35">&gt;178</text>
<text transform="translate(622.7 3335.5) scale(1 1.044)" font-family='"Liberation Sans", sans-serif' font-size="49" text-anchor="middle" font-weight="bold" stroke="#000" stroke-width="0.35">I</text>
<text transform="translate(787.5 3335.5) scale(1 1.044)" font-family='"Liberation Sans", sans-serif' font-size="49" text-anchor="middle" font-weight="bold" stroke="#000" stroke-width="0.35">II-III</text>
<text transform="translate(959.8 3335.5) scale(1 1.044)" font-family='"Liberation Sans", sans-serif' font-size="49" text-anchor="middle" font-weight="bold" stroke="#000" stroke-width="0.35">IV</text>
<text transform="translate(1147.1 3335.5) scale(1 1.044)" font-family='"Liberation Sans", sans-serif' font-size="49" text-anchor="middle" font-weight="bold" stroke="#000" stroke-width="0.35">V</text>
<text transform="translate(1335 3335.5) scale(1 1.044)" font-family='"Liberation Sans", sans-serif' font-size="49" text-anchor="middle" font-weight="bold" stroke="#000" stroke-width="0.35">VI</text>
<text transform="translate(1545.2 3335.5) scale(1 1.044)" font-family='"Liberation Sans", sans-serif' font-size="49" text-anchor="middle" font-weight="bold" stroke="#000" stroke-width="0.35">VII</text>
<text transform="translate(1785.4 3335.5) scale(1 1.044)" font-family='"Liberation Sans", sans-serif' font-size="49" text-anchor="middle" font-weight="bold" stroke="#000" stroke-width="0.35">VIII</text>
<text transform="translate(2003 3335.5) scale(1 1.044)" font-family='"Liberation Sans", sans-serif' font-size="49" text-anchor="middle" font-weight="bold" stroke="#000" stroke-width="0.35">IX</text>
<text transform="translate(2210.8 3335.5) scale(1 1.044)" font-family='"Liberation Sans", sans-serif' font-size="49" text-anchor="middle" font-weight="bold" stroke="#000" stroke-width="0.35">X+</text>
<text transform="translate(225 3388.7) scale(1 1.044)" font-family='"Liberation Sans", sans-serif' font-size="33.1" stroke="#000" stroke-width="0.5">Scale based upon Worden et al. (2011)</text>
</svg></body></html>
